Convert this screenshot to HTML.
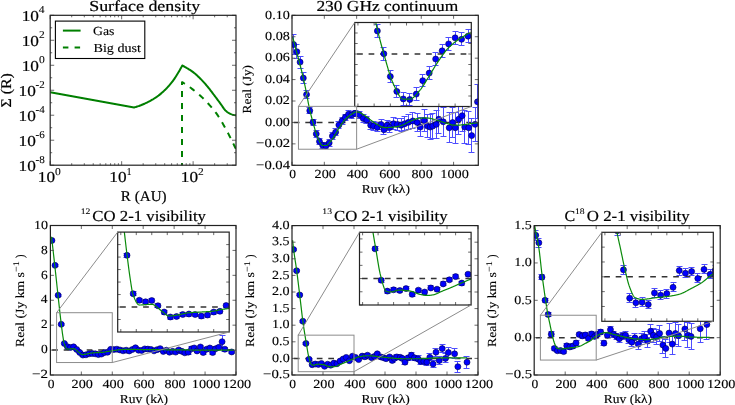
<!DOCTYPE html>
<html><head><meta charset="utf-8"><style>
html,body{margin:0;padding:0;background:#fff;}
svg{display:block;will-change:transform;}
text{font-family:"Liberation Serif",serif;fill:#000;stroke:#000;text-rendering:geometricPrecision;}
</style></head><body>
<svg width="735" height="405" viewBox="0 0 735 405">
<rect width="735" height="405" fill="#fff"/>
<clipPath id="c1"><rect x="50.20" y="15.30" width="185.80" height="149.90"/></clipPath>
<polyline points="50.20,92.30 134.10,107.50 134.71,107.33 135.32,107.15 135.93,106.96 136.54,106.77 137.15,106.57 137.76,106.37 138.37,106.15 138.98,105.94 139.59,105.71 140.20,105.48 140.81,105.25 141.42,105.00 142.03,104.76 142.64,104.51 143.25,104.25 143.86,103.99 144.47,103.72 145.08,103.45 145.69,103.16 146.30,102.88 146.91,102.59 147.52,102.29 148.13,101.98 148.74,101.67 149.35,101.35 149.96,101.02 150.57,100.68 151.18,100.34 151.79,99.99 152.40,99.63 153.01,99.27 153.62,98.89 154.23,98.51 154.84,98.12 155.45,97.72 156.06,97.31 156.67,96.90 157.28,96.47 157.89,96.03 158.51,95.58 159.12,95.11 159.73,94.63 160.34,94.14 160.95,93.63 161.56,93.11 162.17,92.58 162.78,92.03 163.39,91.47 164.00,90.89 164.61,90.30 165.22,89.70 165.83,89.09 166.44,88.46 167.05,87.82 167.66,87.16 168.27,86.49 168.88,85.81 169.49,85.12 170.10,84.41 170.71,83.69 171.32,82.95 171.93,82.18 172.54,81.38 173.15,80.55 173.76,79.70 174.37,78.82 174.98,77.92 175.59,76.99 176.20,76.04 176.81,75.07 177.42,74.08 178.03,73.06 178.64,72.03 179.25,70.98 179.86,69.92 180.47,68.83 181.08,67.74 181.69,66.63 182.30,65.50 183.00,65.87 183.69,66.25 184.39,66.64 185.08,67.04 185.78,67.44 186.48,67.85 187.17,68.26 187.87,68.68 188.57,69.10 189.26,69.53 189.96,69.96 190.65,70.41 191.35,70.87 192.05,71.35 192.74,71.86 193.44,72.39 194.14,72.94 194.83,73.51 195.53,74.11 196.22,74.73 196.92,75.36 197.62,76.00 198.31,76.66 199.01,77.33 199.71,78.01 200.40,78.70 201.10,79.40 201.79,80.12 202.49,80.86 203.19,81.62 203.88,82.39 204.58,83.17 205.27,83.97 205.97,84.77 206.67,85.59 207.36,86.42 208.06,87.25 208.76,88.11 209.45,88.99 210.15,89.88 210.84,90.78 211.54,91.70 212.24,92.62 212.93,93.55 213.63,94.48 214.33,95.40 215.02,96.33 215.72,97.25 216.41,98.19 217.11,99.12 217.81,100.06 218.50,101.01 219.20,101.95 219.89,102.90 220.59,103.84 221.29,104.80 221.98,105.81 222.68,106.86 223.38,107.89 224.07,108.86 224.77,109.74 225.46,110.46 226.16,111.09 226.86,111.67 227.55,112.20 228.25,112.68 228.95,113.11 229.64,113.48 230.34,113.80 231.03,114.11 231.73,114.40 232.43,114.66 233.12,114.87 233.82,115.03 234.52,115.12 235.21,115.19 235.91,115.25 236.60,115.29 237.30,115.30" fill="none" stroke="#007f00" stroke-width="2" clip-path="url(#c1)" stroke-linejoin="round" />
<polyline points="182.00,167.00 182.00,82.20 182.30,82.20 182.99,82.62 183.68,83.06 184.38,83.50 185.07,83.94 185.76,84.40 186.45,84.86 187.15,85.33 187.84,85.81 188.53,86.29 189.22,86.79 189.92,87.29 190.61,87.80 191.30,88.32 191.99,88.84 192.69,89.37 193.38,89.91 194.07,90.45 194.76,91.00 195.46,91.56 196.15,92.13 196.84,92.70 197.53,93.28 198.23,93.87 198.92,94.47 199.61,95.08 200.30,95.69 200.99,96.32 201.69,96.96 202.38,97.61 203.07,98.28 203.76,98.96 204.46,99.65 205.15,100.36 205.84,101.07 206.53,101.80 207.23,102.54 207.92,103.29 208.61,104.04 209.30,104.80 210.00,105.57 210.69,106.36 211.38,107.15 212.07,107.96 212.77,108.78 213.46,109.63 214.15,110.49 214.84,111.37 215.54,112.28 216.23,113.21 216.92,114.17 217.61,115.16 218.31,116.19 219.00,117.26 219.69,118.35 220.38,119.48 221.07,120.63 221.77,121.81 222.46,123.01 223.15,124.22 223.84,125.45 224.54,126.70 225.23,127.95 225.92,129.21 226.61,130.48 227.31,131.75 228.00,133.06 228.69,134.40 229.38,135.77 230.08,137.16 230.77,138.56 231.46,139.97 232.15,141.38 232.85,142.79 233.54,144.18 234.23,145.56 234.92,146.93 235.62,148.29 236.31,149.64 237.00,151.00" fill="none" stroke="#007f00" stroke-width="2" stroke-dasharray="6 6" clip-path="url(#c1)" stroke-linejoin="round" stroke-dashoffset="1.9"/>
<path d="M50.20 165.20v-4.00M50.20 15.30v4.00M121.66 165.20v-4.00M121.66 15.30v4.00M193.12 165.20v-4.00M193.12 15.30v4.00M71.71 165.20v-2.00M71.71 15.30v2.00M84.30 165.20v-2.00M84.30 15.30v2.00M93.22 165.20v-2.00M93.22 15.30v2.00M100.15 165.20v-2.00M100.15 15.30v2.00M105.81 165.20v-2.00M105.81 15.30v2.00M110.59 165.20v-2.00M110.59 15.30v2.00M114.74 165.20v-2.00M114.74 15.30v2.00M118.39 165.20v-2.00M118.39 15.30v2.00M143.17 165.20v-2.00M143.17 15.30v2.00M155.76 165.20v-2.00M155.76 15.30v2.00M164.69 165.20v-2.00M164.69 15.30v2.00M171.61 165.20v-2.00M171.61 15.30v2.00M177.27 165.20v-2.00M177.27 15.30v2.00M182.05 165.20v-2.00M182.05 15.30v2.00M186.20 165.20v-2.00M186.20 15.30v2.00M189.85 165.20v-2.00M189.85 15.30v2.00M214.64 165.20v-2.00M214.64 15.30v2.00M227.22 165.20v-2.00M227.22 15.30v2.00M50.20 165.20h4.00M236.00 165.20h-4.00M50.20 140.22h4.00M236.00 140.22h-4.00M50.20 115.23h4.00M236.00 115.23h-4.00M50.20 90.25h4.00M236.00 90.25h-4.00M50.20 65.27h4.00M236.00 65.27h-4.00M50.20 40.28h4.00M236.00 40.28h-4.00M50.20 15.30h4.00M236.00 15.30h-4.00M50.20 152.71h2.00M236.00 152.71h-2.00M50.20 127.72h2.00M236.00 127.72h-2.00M50.20 102.74h2.00M236.00 102.74h-2.00M50.20 77.76h2.00M236.00 77.76h-2.00M50.20 52.78h2.00M236.00 52.78h-2.00M50.20 27.79h2.00M236.00 27.79h-2.00" stroke="#444" stroke-width="0.8" fill="none"/>
<rect x="50.20" y="15.30" width="185.80" height="149.90" fill="none" stroke="#222" stroke-width="1.2"/>
<rect x="55.4" y="21.1" width="89.4" height="37.4" fill="#fff" stroke="#000" stroke-width="1.1"/>
<line x1="62.9" y1="30.6" x2="80.6" y2="30.6" stroke="#007f00" stroke-width="2"/>
<line x1="62.9" y1="47.4" x2="80.6" y2="47.4" stroke="#007f00" stroke-width="2" stroke-dasharray="5.5 6.2"/>
<text x="92.95" y="34.50" font-size="12.32" textLength="21.46" lengthAdjust="spacingAndGlyphs" stroke-width="0.12">Gas</text>
<text x="93.51" y="51.50" font-size="12.32" textLength="47.50" lengthAdjust="spacingAndGlyphs" stroke-width="0.12">Big dust</text>
<text x="18.56" y="170.50" font-size="15.12" textLength="17.23" lengthAdjust="spacingAndGlyphs" stroke-width="0.20">10</text>
<text x="35.59" y="162.60" font-size="10.58" textLength="9.24" lengthAdjust="spacingAndGlyphs" stroke-width="0.08">-8</text>
<text x="18.56" y="145.52" font-size="15.12" textLength="17.23" lengthAdjust="spacingAndGlyphs" stroke-width="0.20">10</text>
<text x="35.59" y="137.62" font-size="10.58" textLength="9.19" lengthAdjust="spacingAndGlyphs" stroke-width="0.08">-6</text>
<text x="18.56" y="120.53" font-size="15.12" textLength="17.23" lengthAdjust="spacingAndGlyphs" stroke-width="0.20">10</text>
<text x="35.59" y="112.63" font-size="10.58" textLength="9.15" lengthAdjust="spacingAndGlyphs" stroke-width="0.08">-4</text>
<text x="18.56" y="95.55" font-size="15.12" textLength="17.23" lengthAdjust="spacingAndGlyphs" stroke-width="0.20">10</text>
<text x="35.60" y="87.65" font-size="10.58" textLength="9.13" lengthAdjust="spacingAndGlyphs" stroke-width="0.08">-2</text>
<text x="21.76" y="70.57" font-size="15.12" textLength="17.23" lengthAdjust="spacingAndGlyphs" stroke-width="0.20">10</text>
<text x="38.96" y="62.67" font-size="10.58" textLength="5.80" lengthAdjust="spacingAndGlyphs" stroke-width="0.08">0</text>
<text x="21.76" y="45.58" font-size="15.12" textLength="17.23" lengthAdjust="spacingAndGlyphs" stroke-width="0.20">10</text>
<text x="38.93" y="37.68" font-size="10.58" textLength="5.71" lengthAdjust="spacingAndGlyphs" stroke-width="0.08">2</text>
<text x="21.76" y="20.60" font-size="15.12" textLength="17.23" lengthAdjust="spacingAndGlyphs" stroke-width="0.20">10</text>
<text x="38.85" y="12.70" font-size="10.58" textLength="5.81" lengthAdjust="spacingAndGlyphs" stroke-width="0.08">4</text>
<text x="37.85" y="182.40" font-size="15.12" textLength="17.23" lengthAdjust="spacingAndGlyphs" stroke-width="0.20">10</text>
<text x="55.06" y="174.50" font-size="10.58" textLength="5.80" lengthAdjust="spacingAndGlyphs" stroke-width="0.08">0</text>
<text x="109.31" y="182.40" font-size="15.12" textLength="17.23" lengthAdjust="spacingAndGlyphs" stroke-width="0.20">10</text>
<text x="126.60" y="174.50" font-size="10.58" textLength="5.14" lengthAdjust="spacingAndGlyphs" stroke-width="0.08">1</text>
<text x="180.78" y="182.40" font-size="15.12" textLength="17.23" lengthAdjust="spacingAndGlyphs" stroke-width="0.20">10</text>
<text x="197.95" y="174.50" font-size="10.58" textLength="5.71" lengthAdjust="spacingAndGlyphs" stroke-width="0.08">2</text>
<text x="120.86" y="200.90" font-size="14.78" textLength="45.71" lengthAdjust="spacingAndGlyphs" stroke-width="0.20">R (AU)</text>
<g transform="translate(10.80 90.65) rotate(-90)"><text x="-16.98" y="0" font-size="14.78" textLength="34.48" lengthAdjust="spacingAndGlyphs" stroke-width="0.20">Σ (R)</text></g>
<text x="89.20" y="10.90" font-size="15.23" textLength="110.98" lengthAdjust="spacingAndGlyphs" stroke-width="0.20">Surface density</text>
<clipPath id="c2"><rect x="292.00" y="15.30" width="186.30" height="150.00"/></clipPath>
<line x1="292.00" y1="122.44" x2="478.30" y2="122.44" stroke="#333" stroke-width="1.5" stroke-dasharray="5.7 5.8" stroke-dashoffset="9.70" clip-path="url(#c2)"/>
<path d="M293.50 34.50V54.50M290.50 34.50h6.00M290.50 54.50h6.00M296.50 44.50V58.50M293.50 44.50h6.00M293.50 58.50h6.00M300.50 56.50V68.50M297.50 56.50h6.00M297.50 68.50h6.00M303.50 72.50V83.50M300.50 72.50h6.00M300.50 83.50h6.00M306.50 90.50V98.50M303.50 90.50h6.00M303.50 98.50h6.00M309.50 107.50V113.50M306.50 107.50h6.00M306.50 113.50h6.00M313.50 119.50V125.50M310.50 119.50h6.00M310.50 125.50h6.00M316.50 130.50V137.50M313.50 130.50h6.00M313.50 137.50h6.00M319.50 138.50V144.50M316.50 138.50h6.00M316.50 144.50h6.00M322.50 142.50V148.50M319.50 142.50h6.00M319.50 148.50h6.00M325.50 142.50V148.50M322.50 142.50h6.00M322.50 148.50h6.00M329.50 139.50V146.50M326.50 139.50h6.00M326.50 146.50h6.00M332.50 132.50V139.50M329.50 132.50h6.00M329.50 139.50h6.00M335.50 128.50V135.50M332.50 128.50h6.00M332.50 135.50h6.00M338.50 121.50V128.50M335.50 121.50h6.00M335.50 128.50h6.00M342.50 117.50V124.50M339.50 117.50h6.00M339.50 124.50h6.00M345.50 114.50V120.50M342.50 114.50h6.00M342.50 120.50h6.00M348.50 110.50V117.50M345.50 110.50h6.00M345.50 117.50h6.00M351.50 111.50V118.50M348.50 111.50h6.00M348.50 118.50h6.00M355.50 110.50V116.50M352.50 110.50h6.00M352.50 116.50h6.00M359.50 111.50V118.50M356.50 111.50h6.00M356.50 118.50h6.00M363.50 114.50V122.50M360.50 114.50h6.00M360.50 122.50h6.00M366.50 116.50V123.50M363.50 116.50h6.00M363.50 123.50h6.00M370.50 121.50V129.50M367.50 121.50h6.00M367.50 129.50h6.00M373.50 121.50V130.50M370.50 121.50h6.00M370.50 130.50h6.00M377.50 122.50V131.50M374.50 122.50h6.00M374.50 131.50h6.00M381.50 119.50V129.50M378.50 119.50h6.00M378.50 129.50h6.00M383.50 124.50V134.50M380.50 124.50h6.00M380.50 134.50h6.00M387.50 120.50V130.50M384.50 120.50h6.00M384.50 130.50h6.00M389.50 121.50V132.50M386.50 121.50h6.00M386.50 132.50h6.00M393.50 117.50V129.50M390.50 117.50h6.00M390.50 129.50h6.00M397.50 118.50V130.50M394.50 118.50h6.00M394.50 130.50h6.00M401.50 118.50V131.50M398.50 118.50h6.00M398.50 131.50h6.00M404.50 116.50V130.50M401.50 116.50h6.00M401.50 130.50h6.00M408.50 114.50V129.50M405.50 114.50h6.00M405.50 129.50h6.00M412.50 112.50V128.50M409.50 112.50h6.00M409.50 128.50h6.00M417.50 113.50V131.50M414.50 113.50h6.00M414.50 131.50h6.00M420.50 117.50V136.50M417.50 117.50h6.00M417.50 136.50h6.00M424.50 109.50V131.50M421.50 109.50h6.00M421.50 131.50h6.00M427.50 114.50V137.50M424.50 114.50h6.00M424.50 137.50h6.00M430.50 114.50V139.50M427.50 114.50h6.00M427.50 139.50h6.00M432.50 113.50V138.50M429.50 113.50h6.00M429.50 138.50h6.00M436.50 110.50V138.50M433.50 110.50h6.00M433.50 138.50h6.00M438.50 105.50V133.50M435.50 105.50h6.00M435.50 133.50h6.00M443.50 107.50V136.50M440.50 107.50h6.00M440.50 136.50h6.00M449.50 112.50V142.50M446.50 112.50h6.00M446.50 142.50h6.00M452.50 107.50V137.50M449.50 107.50h6.00M449.50 137.50h6.00M455.50 112.50V143.50M452.50 112.50h6.00M452.50 143.50h6.00M458.50 103.50V134.50M455.50 103.50h6.00M455.50 134.50h6.00M462.50 99.50V131.50M459.50 99.50h6.00M459.50 131.50h6.00M464.50 110.50V143.50M461.50 110.50h6.00M461.50 143.50h6.00M468.50 111.50V144.50M465.50 111.50h6.00M465.50 144.50h6.00M471.50 118.50V152.50M468.50 118.50h6.00M468.50 152.50h6.00M475.50 107.50V141.50M472.50 107.50h6.00M472.50 141.50h6.00M477.50 84.50V118.50M474.50 84.50h6.00M474.50 118.50h6.00" stroke="#4d4dff" stroke-width="1" fill="none" clip-path="url(#c2)"/>
<g fill="#0000ff" stroke="#00004a" stroke-width="0.6" clip-path="url(#c2)"><circle cx="293.62" cy="44.55" r="3"/><circle cx="296.85" cy="51.73" r="3"/><circle cx="300.08" cy="62.12" r="3"/><circle cx="303.31" cy="78.09" r="3"/><circle cx="306.54" cy="94.59" r="3"/><circle cx="309.77" cy="110.66" r="3"/><circle cx="313.01" cy="122.34" r="3"/><circle cx="316.24" cy="133.91" r="3"/><circle cx="319.47" cy="141.51" r="3"/><circle cx="322.70" cy="145.37" r="3"/><circle cx="325.93" cy="145.69" r="3"/><circle cx="329.16" cy="142.91" r="3"/><circle cx="332.39" cy="136.05" r="3"/><circle cx="335.63" cy="132.19" r="3"/><circle cx="338.86" cy="125.01" r="3"/><circle cx="342.09" cy="120.84" r="3"/><circle cx="345.32" cy="117.30" r="3"/><circle cx="348.55" cy="114.19" r="3"/><circle cx="351.78" cy="114.94" r="3"/><circle cx="355.02" cy="113.34" r="3"/><circle cx="359.38" cy="114.84" r="3"/><circle cx="363.26" cy="118.48" r="3"/><circle cx="366.81" cy="119.98" r="3"/><circle cx="370.69" cy="125.23" r="3"/><circle cx="373.60" cy="125.98" r="3"/><circle cx="377.31" cy="127.37" r="3"/><circle cx="381.03" cy="124.48" r="3"/><circle cx="383.94" cy="129.73" r="3"/><circle cx="387.01" cy="125.23" r="3"/><circle cx="389.92" cy="127.37" r="3"/><circle cx="393.63" cy="123.73" r="3"/><circle cx="397.35" cy="124.48" r="3"/><circle cx="401.07" cy="125.23" r="3"/><circle cx="404.78" cy="123.73" r="3"/><circle cx="408.50" cy="122.34" r="3"/><circle cx="412.86" cy="120.94" r="3"/><circle cx="417.22" cy="122.55" r="3"/><circle cx="420.29" cy="127.05" r="3"/><circle cx="424.17" cy="120.62" r="3"/><circle cx="427.56" cy="126.09" r="3"/><circle cx="430.15" cy="127.05" r="3"/><circle cx="432.73" cy="126.09" r="3"/><circle cx="436.29" cy="124.37" r="3"/><circle cx="438.87" cy="119.23" r="3"/><circle cx="443.24" cy="121.80" r="3"/><circle cx="449.22" cy="127.80" r="3"/><circle cx="452.61" cy="122.55" r="3"/><circle cx="455.36" cy="127.80" r="3"/><circle cx="458.75" cy="119.23" r="3"/><circle cx="462.14" cy="115.69" r="3"/><circle cx="464.73" cy="127.05" r="3"/><circle cx="468.77" cy="127.80" r="3"/><circle cx="471.68" cy="135.62" r="3"/><circle cx="475.07" cy="124.37" r="3"/><circle cx="477.49" cy="101.87" r="3"/></g>
<polyline points="292.65,37.05 293.11,38.77 293.58,40.50 294.04,42.24 294.51,43.97 294.97,45.72 295.44,47.47 295.90,49.22 296.37,50.98 296.83,52.75 297.30,54.51 297.76,56.26 298.23,58.00 298.70,59.73 299.16,61.47 299.63,63.22 300.09,64.99 300.56,66.77 301.02,68.59 301.49,70.43 301.95,72.32 302.42,74.25 302.88,76.24 303.35,78.28 303.81,80.38 304.28,82.53 304.74,84.72 305.21,86.95 305.67,89.21 306.14,91.51 306.61,93.83 307.07,96.28 307.54,98.85 308.00,101.43 308.47,103.92 308.93,106.21 309.40,108.32 309.86,110.34 310.33,112.29 310.79,114.17 311.26,115.99 311.72,117.77 312.19,119.49 312.65,121.19 313.12,122.85 313.58,124.53 314.05,126.22 314.52,127.90 314.98,129.55 315.45,131.16 315.91,132.70 316.38,134.16 316.84,135.51 317.31,136.73 317.77,137.81 318.24,138.79 318.70,139.80 319.17,140.79 319.63,141.76 320.10,142.67 320.56,143.49 321.03,144.21 321.49,144.79 321.96,145.21 322.43,145.44 322.89,145.48 323.36,145.48 323.82,145.48 324.29,145.48 324.75,145.48 325.22,145.48 325.68,145.48 326.15,145.46 326.61,145.34 327.08,145.11 327.54,144.77 328.01,144.36 328.47,143.89 328.94,143.37 329.40,142.82 329.87,142.26 330.34,141.71 330.80,141.17 331.27,140.61 331.73,139.99 332.20,139.32 332.66,138.61 333.13,137.87 333.59,137.10 334.06,136.32 334.52,135.53 334.99,134.75 335.45,133.97 335.92,133.21 336.38,132.42 336.85,131.62 337.31,130.80 337.78,130.00 338.25,129.21 338.71,128.46 339.18,127.74 339.64,127.01 340.11,126.29 340.57,125.57 341.04,124.86 341.50,124.16 341.97,123.48 342.43,122.81 342.90,122.16 343.36,121.53 343.83,120.93 344.29,120.36 344.76,119.83 345.22,119.33 345.69,118.86 346.16,118.41 346.62,117.97 347.09,117.55 347.55,117.15 348.02,116.75 348.48,116.38 348.95,116.01 349.41,115.66 349.88,115.33 350.34,115.00 350.81,114.69 351.27,114.40 351.74,114.11 352.20,113.83 352.67,113.53 353.13,113.22 353.60,112.92 354.07,112.63 354.53,112.37 355.00,112.13 355.46,111.95 355.93,111.81 356.39,111.74 356.86,111.73 357.32,111.78 357.79,111.86 358.25,111.99 358.72,112.14 359.18,112.33 359.65,112.53 360.11,112.76 360.58,113.01 361.05,113.26 361.51,113.52 361.98,113.79 362.44,114.05 362.91,114.31 363.37,114.56 363.84,114.84 364.30,115.15 364.77,115.47 365.23,115.82 365.70,116.18 366.16,116.55 366.63,116.93 367.09,117.31 367.56,117.69 368.02,118.06 368.49,118.43 368.96,118.79 369.42,119.13 369.89,119.46 370.35,119.79 370.82,120.13 371.28,120.46 371.75,120.80 372.21,121.13 372.68,121.46 373.14,121.79 373.61,122.11 374.07,122.43 374.54,122.75 375.00,123.05 375.47,123.35 375.93,123.63 376.40,123.91 376.87,124.18 377.33,124.43 377.80,124.67 378.26,124.91 378.73,125.17 379.19,125.43 379.66,125.69 380.12,125.94 380.59,126.19 381.05,126.44 381.52,126.67 381.98,126.88 382.45,127.07 382.91,127.23 383.38,127.37 383.84,127.48 384.31,127.55 384.78,127.58 385.24,127.58 385.71,127.58 386.17,127.57 386.64,127.56 387.10,127.55 387.57,127.53 388.03,127.51 388.50,127.49 388.96,127.47 389.43,127.44 389.89,127.41 390.36,127.39 390.82,127.36 391.29,127.33 391.75,127.29 392.22,127.26 392.69,127.22 393.15,127.18 393.62,127.13 394.08,127.08 394.55,127.01 395.01,126.95 395.48,126.87 395.94,126.80 396.41,126.71 396.87,126.63 397.34,126.53 397.80,126.44 398.27,126.34 398.73,126.23 399.20,126.13 399.66,126.02 400.13,125.90 400.60,125.78 401.06,125.64 401.53,125.48 401.99,125.30 402.46,125.11 402.92,124.90 403.39,124.68 403.85,124.45 404.32,124.21 404.78,123.96 405.25,123.71 405.71,123.46 406.18,123.21 406.64,122.96 407.11,122.71 407.57,122.47 408.04,122.23 408.51,122.00 408.97,121.79 409.44,121.58 409.90,121.39 410.37,121.21 410.83,121.02 411.30,120.83 411.76,120.63 412.23,120.43 412.69,120.23 413.16,120.03 413.62,119.84 414.09,119.65 414.55,119.46 415.02,119.28 415.48,119.11 415.95,118.95 416.42,118.79 416.88,118.66 417.35,118.53 417.81,118.42 418.28,118.33 418.74,118.25 419.21,118.19 419.67,118.16 420.14,118.13 420.60,118.10 421.07,118.08 421.53,118.06 422.00,118.04 422.46,118.02 422.93,118.00 423.39,117.99 423.86,117.97 424.33,117.96 424.79,117.95 425.26,117.95 425.72,117.94 426.19,117.94 426.65,117.95 427.12,117.97 427.58,118.01 428.05,118.06 428.51,118.11 428.98,118.18 429.44,118.26 429.91,118.34 430.37,118.44 430.84,118.54 431.30,118.65 431.77,118.76 432.24,118.88 432.70,119.00 433.17,119.12 433.63,119.25 434.10,119.38 434.56,119.51 435.03,119.65 435.49,119.78 435.96,119.91 436.42,120.03 436.89,120.16 437.35,120.28 437.82,120.41 438.28,120.54 438.75,120.68 439.22,120.83 439.68,120.98 440.15,121.14 440.61,121.30 441.08,121.47 441.54,121.64 442.01,121.81 442.47,121.98 442.94,122.15 443.40,122.32 443.87,122.49 444.33,122.66 444.80,122.81 445.26,122.97 445.73,123.12 446.19,123.26 446.66,123.39 447.13,123.52 447.59,123.64 448.06,123.77 448.52,123.90 448.99,124.03 449.45,124.16 449.92,124.30 450.38,124.43 450.85,124.55 451.31,124.67 451.78,124.78 452.24,124.89 452.71,124.98 453.17,125.06 453.64,125.12 454.10,125.18 454.57,125.21 455.04,125.23 455.50,125.23 455.97,125.22 456.43,125.21 456.90,125.20 457.36,125.19 457.83,125.17 458.29,125.15 458.76,125.12 459.22,125.10 459.69,125.07 460.15,125.04 460.62,125.00 461.08,124.97 461.55,124.94 462.01,124.90 462.48,124.86 462.95,124.83 463.41,124.79 463.88,124.74 464.34,124.69 464.81,124.63 465.27,124.56 465.74,124.49 466.20,124.41 466.67,124.32 467.13,124.24 467.60,124.15 468.06,124.06 468.53,123.98 468.99,123.89 469.46,123.81 469.92,123.73 470.39,123.65 470.86,123.58 471.32,123.52 471.79,123.46 472.25,123.40 472.72,123.34 473.18,123.29 473.65,123.23 474.11,123.18 474.58,123.13 475.04,123.08 475.51,123.03 475.97,122.98 476.44,122.93 476.90,122.88 477.37,122.84 477.83,122.79 478.30,122.75" fill="none" stroke="#0a8a0a" stroke-width="1.2" clip-path="url(#c2)" stroke-linejoin="round" />
<path d="M292.00 165.30v-3.50M292.00 15.30v3.50M324.32 165.30v-3.50M324.32 15.30v3.50M356.63 165.30v-3.50M356.63 15.30v3.50M388.95 165.30v-3.50M388.95 15.30v3.50M421.26 165.30v-3.50M421.26 15.30v3.50M453.58 165.30v-3.50M453.58 15.30v3.50M292.00 165.30h3.50M478.30 165.30h-3.50M292.00 143.87h3.50M478.30 143.87h-3.50M292.00 122.44h3.50M478.30 122.44h-3.50M292.00 101.01h3.50M478.30 101.01h-3.50M292.00 79.59h3.50M478.30 79.59h-3.50M292.00 58.16h3.50M478.30 58.16h-3.50M292.00 36.73h3.50M478.30 36.73h-3.50M292.00 15.30h3.50M478.30 15.30h-3.50" stroke="#444" stroke-width="0.8" fill="none"/>
<rect x="292.00" y="15.30" width="186.30" height="150.00" fill="none" stroke="#222" stroke-width="1.2"/>
<rect x="354.70" y="22.50" width="116.60" height="84.00" fill="#fff"/>
<clipPath id="c3"><rect x="354.70" y="22.50" width="116.60" height="84.00"/></clipPath>
<line x1="354.70" y1="54.00" x2="471.30" y2="54.00" stroke="#333" stroke-width="1.5" stroke-dasharray="5.7 5.8" stroke-dashoffset="9.10" clip-path="url(#c3)"/>
<path d="M351.50 -98.50V-70.50M348.50 -98.50h6.00M348.50 -70.50h6.00M357.50 -75.50V-52.50M354.50 -75.50h6.00M354.50 -52.50h6.00M364.50 -43.50V-22.50M361.50 -43.50h6.00M361.50 -22.50h6.00M370.50 -8.50V7.50M367.50 -8.50h6.00M367.50 7.50h6.00M377.50 24.50V37.50M374.50 24.50h6.00M374.50 37.50h6.00M383.50 47.50V60.50M380.50 47.50h6.00M380.50 60.50h6.00M390.50 70.50V82.50M387.50 70.50h6.00M387.50 82.50h6.00M396.50 85.50V97.50M393.50 85.50h6.00M393.50 97.50h6.00M403.50 92.50V105.50M400.50 92.50h6.00M400.50 105.50h6.00M409.50 93.50V105.50M406.50 93.50h6.00M406.50 105.50h6.00M416.50 87.50V100.50M413.50 87.50h6.00M413.50 100.50h6.00M422.50 74.50V86.50M419.50 74.50h6.00M419.50 86.50h6.00M429.50 66.50V79.50M426.50 66.50h6.00M426.50 79.50h6.00M435.50 52.50V65.50M432.50 52.50h6.00M432.50 65.50h6.00M442.50 44.50V57.50M439.50 44.50h6.00M439.50 57.50h6.00M448.50 37.50V50.50M445.50 37.50h6.00M445.50 50.50h6.00M455.50 31.50V44.50M452.50 31.50h6.00M452.50 44.50h6.00M461.50 32.50V45.50M458.50 32.50h6.00M458.50 45.50h6.00M468.50 29.50V42.50M465.50 29.50h6.00M465.50 42.50h6.00" stroke="#4d4dff" stroke-width="1" fill="none" clip-path="url(#c3)"/>
<g fill="#0000ff" stroke="#00004a" stroke-width="0.6" clip-path="url(#c3)"><circle cx="351.46" cy="-84.60" r="3"/><circle cx="357.94" cy="-64.23" r="3"/><circle cx="364.42" cy="-32.94" r="3"/><circle cx="370.89" cy="-0.60" r="3"/><circle cx="377.37" cy="30.90" r="3"/><circle cx="383.85" cy="53.79" r="3"/><circle cx="390.33" cy="76.47" r="3"/><circle cx="396.81" cy="91.38" r="3"/><circle cx="403.28" cy="98.94" r="3"/><circle cx="409.76" cy="99.57" r="3"/><circle cx="416.24" cy="94.11" r="3"/><circle cx="422.72" cy="80.67" r="3"/><circle cx="429.19" cy="73.11" r="3"/><circle cx="435.67" cy="59.04" r="3"/><circle cx="442.15" cy="50.85" r="3"/><circle cx="448.63" cy="43.92" r="3"/><circle cx="455.11" cy="37.83" r="3"/><circle cx="461.58" cy="39.30" r="3"/><circle cx="468.06" cy="36.15" r="3"/></g>
<polyline points="343.04,-113.37 343.38,-112.15 343.72,-110.92 344.05,-109.70 344.39,-108.47 344.73,-107.25 345.07,-106.02 345.40,-104.79 345.74,-103.56 346.08,-102.33 346.42,-101.09 346.75,-99.86 347.09,-98.62 347.43,-97.39 347.77,-96.15 348.11,-94.91 348.44,-93.66 348.78,-92.42 349.12,-91.18 349.46,-89.93 349.79,-88.68 350.13,-87.43 350.47,-86.18 350.81,-84.93 351.14,-83.68 351.48,-82.42 351.82,-81.17 352.16,-79.92 352.50,-78.67 352.83,-77.43 353.17,-76.20 353.51,-74.96 353.85,-73.73 354.18,-72.49 354.52,-71.26 354.86,-70.03 355.20,-68.80 355.53,-67.56 355.87,-66.33 356.21,-65.09 356.55,-63.85 356.89,-62.61 357.22,-61.37 357.56,-60.11 357.90,-58.86 358.24,-57.60 358.57,-56.33 358.91,-55.06 359.25,-53.78 359.59,-52.49 359.92,-51.19 360.26,-49.89 360.60,-48.57 360.94,-47.25 361.28,-45.91 361.61,-44.56 361.95,-43.21 362.29,-41.84 362.63,-40.45 362.96,-39.06 363.30,-37.65 363.64,-36.22 363.98,-34.78 364.31,-33.32 364.65,-31.85 364.99,-30.37 365.33,-28.88 365.67,-27.37 366.00,-25.84 366.34,-24.31 366.68,-22.77 367.02,-21.21 367.35,-19.65 367.69,-18.07 368.03,-16.48 368.37,-14.89 368.70,-13.28 369.04,-11.67 369.38,-10.05 369.72,-8.42 370.06,-6.79 370.39,-5.15 370.73,-3.50 371.07,-1.84 371.41,-0.13 371.74,1.62 372.08,3.41 372.42,5.22 372.76,7.05 373.09,8.89 373.43,10.73 373.77,12.55 374.11,14.35 374.45,16.12 374.78,17.85 375.12,19.53 375.46,21.15 375.80,22.69 376.13,24.20 376.47,25.68 376.81,27.14 377.15,28.59 377.48,30.01 377.82,31.41 378.16,32.79 378.50,34.16 378.83,35.51 379.17,36.84 379.51,38.16 379.85,39.46 380.19,40.75 380.52,42.02 380.86,43.28 381.20,44.53 381.54,45.77 381.87,47.00 382.21,48.21 382.55,49.42 382.89,50.62 383.22,51.81 383.56,53.00 383.90,54.18 384.24,55.36 384.58,56.55 384.91,57.74 385.25,58.94 385.59,60.14 385.93,61.34 386.26,62.53 386.60,63.73 386.94,64.92 387.28,66.10 387.61,67.27 387.95,68.43 388.29,69.58 388.63,70.71 388.97,71.83 389.30,72.92 389.64,74.00 389.98,75.06 390.32,76.09 390.65,77.10 390.99,78.08 391.33,79.03 391.67,79.95 392.00,80.83 392.34,81.68 392.68,82.50 393.02,83.27 393.36,84.01 393.69,84.71 394.03,85.41 394.37,86.11 394.71,86.82 395.04,87.53 395.38,88.25 395.72,88.96 396.06,89.66 396.39,90.36 396.73,91.05 397.07,91.73 397.41,92.39 397.75,93.04 398.08,93.67 398.42,94.27 398.76,94.85 399.10,95.41 399.43,95.94 399.77,96.43 400.11,96.89 400.45,97.32 400.78,97.71 401.12,98.05 401.46,98.36 401.80,98.62 402.14,98.83 402.47,98.99 402.81,99.09 403.15,99.15 403.49,99.15 403.82,99.15 404.16,99.15 404.50,99.15 404.84,99.15 405.17,99.15 405.51,99.15 405.85,99.15 406.19,99.15 406.53,99.15 406.86,99.15 407.20,99.15 407.54,99.15 407.88,99.15 408.21,99.15 408.55,99.15 408.89,99.15 409.23,99.15 409.56,99.15 409.90,99.15 410.24,99.12 410.58,99.05 410.92,98.96 411.25,98.83 411.59,98.68 411.93,98.50 412.27,98.29 412.60,98.06 412.94,97.81 413.28,97.54 413.62,97.25 413.95,96.94 414.29,96.61 414.63,96.28 414.97,95.92 415.31,95.56 415.64,95.19 415.98,94.81 416.32,94.42 416.66,94.03 416.99,93.63 417.33,93.23 417.67,92.83 418.01,92.43 418.34,92.04 418.68,91.65 419.02,91.26 419.36,90.88 419.70,90.51 420.03,90.12 420.37,89.71 420.71,89.29 421.05,88.85 421.38,88.40 421.72,87.93 422.06,87.46 422.40,86.97 422.73,86.47 423.07,85.96 423.41,85.44 423.75,84.92 424.09,84.39 424.42,83.85 424.76,83.31 425.10,82.76 425.44,82.21 425.77,81.65 426.11,81.09 426.45,80.53 426.79,79.98 427.12,79.42 427.46,78.86 427.80,78.30 428.14,77.75 428.48,77.20 428.81,76.66 429.15,76.12 429.49,75.58 429.83,75.03 430.16,74.48 430.50,73.92 430.84,73.35 431.18,72.78 431.51,72.20 431.85,71.63 432.19,71.05 432.53,70.47 432.87,69.90 433.20,69.33 433.54,68.76 433.88,68.20 434.22,67.64 434.55,67.09 434.89,66.55 435.23,66.02 435.57,65.50 435.90,64.99 436.24,64.48 436.58,63.97 436.92,63.45 437.26,62.94 437.59,62.43 437.93,61.92 438.27,61.41 438.61,60.89 438.94,60.39 439.28,59.88 439.62,59.37 439.96,58.87 440.29,58.37 440.63,57.87 440.97,57.38 441.31,56.89 441.65,56.40 441.98,55.92 442.32,55.44 442.66,54.96 443.00,54.50 443.33,54.03 443.67,53.57 444.01,53.12 444.35,52.68 444.68,52.24 445.02,51.81 445.36,51.38 445.70,50.96 446.04,50.55 446.37,50.15 446.71,49.76 447.05,49.37 447.39,49.00 447.72,48.63 448.06,48.28 448.40,47.93 448.74,47.59 449.07,47.26 449.41,46.93 449.75,46.61 450.09,46.29 450.42,45.98 450.76,45.67 451.10,45.36 451.44,45.05 451.78,44.76 452.11,44.46 452.45,44.17 452.79,43.88 453.13,43.59 453.46,43.31 453.80,43.04 454.14,42.76 454.48,42.49 454.81,42.23 455.15,41.96 455.49,41.71 455.83,41.45 456.17,41.20 456.50,40.95 456.84,40.71 457.18,40.46 457.52,40.23 457.85,39.99 458.19,39.76 458.53,39.53 458.87,39.31 459.20,39.09 459.54,38.87 459.88,38.65 460.22,38.44 460.56,38.23 460.89,38.03 461.23,37.83 461.57,37.63 461.91,37.43 462.24,37.22 462.58,37.01 462.92,36.80 463.26,36.59 463.59,36.37 463.93,36.15 464.27,35.93 464.61,35.72 464.95,35.50 465.28,35.29 465.62,35.08 465.96,34.88 466.30,34.68 466.63,34.49 466.97,34.31 467.31,34.13 467.65,33.97 467.98,33.81 468.32,33.67 468.66,33.53 469.00,33.41 469.34,33.31 469.67,33.21 470.01,33.14 470.35,33.08 470.69,33.03 471.02,33.01 471.36,33.00 471.70,33.01 472.04,33.03 472.37,33.06 472.71,33.10 473.05,33.15 473.39,33.22 473.73,33.29 474.06,33.37 474.40,33.46 474.74,33.56 475.08,33.67 475.41,33.79 475.75,33.91 476.09,34.04 476.43,34.18 476.76,34.32 477.10,34.47 477.44,34.62 477.78,34.78" fill="none" stroke="#0a8a0a" stroke-width="1.2" clip-path="url(#c3)" stroke-linejoin="round" />
<path d="M357.94 106.50v-3.00M357.94 22.50v3.00M374.13 106.50v-3.00M374.13 22.50v3.00M390.33 106.50v-3.00M390.33 22.50v3.00M406.52 106.50v-3.00M406.52 22.50v3.00M422.72 106.50v-3.00M422.72 22.50v3.00M438.91 106.50v-3.00M438.91 22.50v3.00M455.11 106.50v-3.00M455.11 22.50v3.00M354.70 96.00h3.00M471.30 96.00h-3.00M354.70 85.50h3.00M471.30 85.50h-3.00M354.70 75.00h3.00M471.30 75.00h-3.00M354.70 64.50h3.00M471.30 64.50h-3.00M354.70 54.00h3.00M471.30 54.00h-3.00M354.70 43.50h3.00M471.30 43.50h-3.00M354.70 33.00h3.00M471.30 33.00h-3.00" stroke="#444" stroke-width="0.8" fill="none"/>
<rect x="354.70" y="22.50" width="116.60" height="84.00" fill="none" stroke="#222" stroke-width="1.2"/>
<rect x="298.46" y="106.37" width="58.17" height="42.86" fill="none" stroke="#8c8c8c" stroke-width="1"/>
<path d="M298.46 106.37L354.70 22.50M356.63 149.23L471.30 106.50" stroke="#8c8c8c" stroke-width="1" fill="none"/>
<text x="256.13" y="168.50" font-size="12.32" textLength="33.90" lengthAdjust="spacingAndGlyphs" stroke-width="0.12">−0.04</text>
<text x="256.13" y="147.07" font-size="12.32" textLength="33.95" lengthAdjust="spacingAndGlyphs" stroke-width="0.12">−0.02</text>
<text x="265.08" y="125.64" font-size="12.32" textLength="24.81" lengthAdjust="spacingAndGlyphs" stroke-width="0.12">0.00</text>
<text x="265.09" y="104.21" font-size="12.32" textLength="24.70" lengthAdjust="spacingAndGlyphs" stroke-width="0.12">0.02</text>
<text x="265.09" y="82.79" font-size="12.32" textLength="24.66" lengthAdjust="spacingAndGlyphs" stroke-width="0.12">0.04</text>
<text x="265.09" y="61.36" font-size="12.32" textLength="24.73" lengthAdjust="spacingAndGlyphs" stroke-width="0.12">0.06</text>
<text x="265.08" y="39.93" font-size="12.32" textLength="24.80" lengthAdjust="spacingAndGlyphs" stroke-width="0.12">0.08</text>
<text x="265.08" y="18.50" font-size="12.32" textLength="24.81" lengthAdjust="spacingAndGlyphs" stroke-width="0.12">0.10</text>
<text x="289.30" y="178.20" font-size="12.32" textLength="6.75" lengthAdjust="spacingAndGlyphs" stroke-width="0.12">0</text>
<text x="314.55" y="178.20" font-size="12.32" textLength="21.26" lengthAdjust="spacingAndGlyphs" stroke-width="0.12">200</text>
<text x="346.79" y="178.20" font-size="12.32" textLength="21.34" lengthAdjust="spacingAndGlyphs" stroke-width="0.12">400</text>
<text x="379.18" y="178.20" font-size="12.32" textLength="21.26" lengthAdjust="spacingAndGlyphs" stroke-width="0.12">600</text>
<text x="411.55" y="178.20" font-size="12.32" textLength="21.20" lengthAdjust="spacingAndGlyphs" stroke-width="0.12">800</text>
<text x="440.28" y="178.20" font-size="12.32" textLength="28.49" lengthAdjust="spacingAndGlyphs" stroke-width="0.12">1000</text>
<text x="361.73" y="193.30" font-size="12.32" textLength="48.17" lengthAdjust="spacingAndGlyphs" stroke-width="0.12">Ruv (kλ)</text>
<text x="316.44" y="10.90" font-size="15.23" textLength="141.86" lengthAdjust="spacingAndGlyphs" stroke-width="0.20">230 GHz continuum</text>
<g transform="translate(250.80 113.60) rotate(-90)"><text x="0.23" y="0" font-size="12.32" textLength="48.44" lengthAdjust="spacingAndGlyphs" stroke-width="0.12">Real (Jy)</text></g>
<clipPath id="c4"><rect x="50.40" y="225.50" width="185.60" height="149.50"/></clipPath>
<line x1="50.40" y1="350.08" x2="236.00" y2="350.08" stroke="#333" stroke-width="1.5" stroke-dasharray="5.7 5.8" stroke-dashoffset="9.70" clip-path="url(#c4)"/>
<path d="M51.50 239.50V241.50M48.50 239.50h6.00M48.50 241.50h6.00M55.50 264.50V266.50M52.50 264.50h6.00M52.50 266.50h6.00M58.50 294.50V296.50M55.50 294.50h6.00M55.50 296.50h6.00M61.50 323.50V325.50M58.50 323.50h6.00M58.50 325.50h6.00M64.50 342.50V344.50M61.50 342.50h6.00M61.50 344.50h6.00M67.50 345.50V347.50M64.50 345.50h6.00M64.50 347.50h6.00M70.50 346.50V348.50M67.50 346.50h6.00M67.50 348.50h6.00M73.50 345.50V347.50M70.50 345.50h6.00M70.50 347.50h6.00M76.50 348.50V350.50M73.50 348.50h6.00M73.50 350.50h6.00M79.50 351.50V353.50M76.50 351.50h6.00M76.50 353.50h6.00M82.50 354.50V356.50M79.50 354.50h6.00M79.50 356.50h6.00M85.50 353.50V355.50M82.50 353.50h6.00M82.50 355.50h6.00M89.50 352.50V354.50M86.50 352.50h6.00M86.50 354.50h6.00M92.50 352.50V354.50M89.50 352.50h6.00M89.50 354.50h6.00M95.50 352.50V354.50M92.50 352.50h6.00M92.50 354.50h6.00M98.50 353.50V355.50M95.50 353.50h6.00M95.50 355.50h6.00M101.50 353.50V355.50M98.50 353.50h6.00M98.50 355.50h6.00M104.50 351.50V353.50M101.50 351.50h6.00M101.50 353.50h6.00M107.50 351.50V353.50M104.50 351.50h6.00M104.50 353.50h6.00M110.50 348.50V350.50M107.50 348.50h6.00M107.50 350.50h6.00M113.50 348.50V350.50M110.50 348.50h6.00M110.50 350.50h6.00M116.50 348.50V350.50M113.50 348.50h6.00M113.50 350.50h6.00M120.50 348.50V350.50M117.50 348.50h6.00M117.50 350.50h6.00M123.50 349.50V351.50M120.50 349.50h6.00M120.50 351.50h6.00M126.50 349.50V351.50M123.50 349.50h6.00M123.50 351.50h6.00M129.50 349.50V351.50M126.50 349.50h6.00M126.50 351.50h6.00M132.50 348.50V350.50M129.50 348.50h6.00M129.50 350.50h6.00M135.50 346.50V348.50M132.50 346.50h6.00M132.50 348.50h6.00M138.50 349.50V351.50M135.50 349.50h6.00M135.50 351.50h6.00M141.50 349.50V351.50M138.50 349.50h6.00M138.50 351.50h6.00M144.50 347.50V349.50M141.50 347.50h6.00M141.50 349.50h6.00M147.50 348.50V350.50M144.50 348.50h6.00M144.50 350.50h6.00M150.50 348.50V350.50M147.50 348.50h6.00M147.50 350.50h6.00M154.50 349.50V351.50M151.50 349.50h6.00M151.50 351.50h6.00M157.50 348.50V350.50M154.50 348.50h6.00M154.50 350.50h6.00M160.50 347.50V349.50M157.50 347.50h6.00M157.50 349.50h6.00M163.50 350.50V352.50M160.50 350.50h6.00M160.50 352.50h6.00M166.50 349.50V351.50M163.50 349.50h6.00M163.50 351.50h6.00M169.50 351.50V353.50M166.50 351.50h6.00M166.50 353.50h6.00M172.50 350.50V352.50M169.50 350.50h6.00M169.50 352.50h6.00M175.50 350.50V353.50M172.50 350.50h6.00M172.50 353.50h6.00M178.50 348.50V351.50M175.50 348.50h6.00M175.50 351.50h6.00M181.50 349.50V353.50M178.50 349.50h6.00M178.50 353.50h6.00M184.50 350.50V354.50M181.50 350.50h6.00M181.50 354.50h6.00M188.50 350.50V354.50M185.50 350.50h6.00M185.50 354.50h6.00M191.50 346.50V350.50M188.50 346.50h6.00M188.50 350.50h6.00M194.50 346.50V349.50M191.50 346.50h6.00M191.50 349.50h6.00M197.50 349.50V352.50M194.50 349.50h6.00M194.50 352.50h6.00M200.50 345.50V348.50M197.50 345.50h6.00M197.50 348.50h6.00M203.50 350.50V354.50M200.50 350.50h6.00M200.50 354.50h6.00M206.50 347.50V351.50M203.50 347.50h6.00M203.50 351.50h6.00M209.50 346.50V349.50M206.50 346.50h6.00M206.50 349.50h6.00M212.50 350.50V354.50M209.50 350.50h6.00M209.50 354.50h6.00M215.50 346.50V350.50M212.50 346.50h6.00M212.50 350.50h6.00M218.50 345.50V349.50M215.50 345.50h6.00M215.50 349.50h6.00M222.50 335.50V347.50M219.50 335.50h6.00M219.50 347.50h6.00M224.50 347.50V351.50M221.50 347.50h6.00M221.50 351.50h6.00M231.50 350.50V353.50M228.50 350.50h6.00M228.50 353.50h6.00" stroke="#4d4dff" stroke-width="1" fill="none" clip-path="url(#c4)"/>
<g fill="#0000ff" stroke="#00004a" stroke-width="0.6" clip-path="url(#c4)"><circle cx="51.95" cy="240.45" r="3"/><circle cx="55.04" cy="265.37" r="3"/><circle cx="58.13" cy="295.27" r="3"/><circle cx="61.23" cy="324.29" r="3"/><circle cx="64.32" cy="343.48" r="3"/><circle cx="67.41" cy="346.72" r="3"/><circle cx="70.51" cy="347.47" r="3"/><circle cx="73.60" cy="346.84" r="3"/><circle cx="76.69" cy="349.46" r="3"/><circle cx="79.79" cy="352.57" r="3"/><circle cx="82.88" cy="355.07" r="3"/><circle cx="85.97" cy="354.82" r="3"/><circle cx="89.07" cy="353.82" r="3"/><circle cx="92.16" cy="353.57" r="3"/><circle cx="95.25" cy="353.82" r="3"/><circle cx="98.35" cy="354.57" r="3"/><circle cx="101.44" cy="354.07" r="3"/><circle cx="104.53" cy="352.57" r="3"/><circle cx="107.63" cy="352.20" r="3"/><circle cx="110.72" cy="349.34" r="3"/><circle cx="113.81" cy="349.58" r="3"/><circle cx="116.91" cy="349.18" r="3"/><circle cx="120.00" cy="349.96" r="3"/><circle cx="123.09" cy="350.81" r="3"/><circle cx="126.19" cy="350.21" r="3"/><circle cx="129.28" cy="350.94" r="3"/><circle cx="132.37" cy="349.50" r="3"/><circle cx="135.47" cy="347.75" r="3"/><circle cx="138.56" cy="350.26" r="3"/><circle cx="141.65" cy="350.44" r="3"/><circle cx="144.75" cy="348.91" r="3"/><circle cx="147.84" cy="349.10" r="3"/><circle cx="150.93" cy="349.44" r="3"/><circle cx="154.03" cy="350.86" r="3"/><circle cx="157.12" cy="349.63" r="3"/><circle cx="160.21" cy="348.63" r="3"/><circle cx="163.31" cy="351.43" r="3"/><circle cx="166.40" cy="350.21" r="3"/><circle cx="169.49" cy="352.19" r="3"/><circle cx="172.59" cy="351.35" r="3"/><circle cx="175.68" cy="352.11" r="3"/><circle cx="178.77" cy="349.91" r="3"/><circle cx="181.87" cy="351.32" r="3"/><circle cx="184.81" cy="352.82" r="3"/><circle cx="188.21" cy="352.20" r="3"/><circle cx="191.61" cy="348.84" r="3"/><circle cx="194.24" cy="347.97" r="3"/><circle cx="197.02" cy="350.96" r="3"/><circle cx="200.43" cy="346.97" r="3"/><circle cx="203.21" cy="352.57" r="3"/><circle cx="206.61" cy="349.21" r="3"/><circle cx="209.86" cy="347.97" r="3"/><circle cx="212.65" cy="352.57" r="3"/><circle cx="215.43" cy="348.84" r="3"/><circle cx="218.83" cy="347.34" r="3"/><circle cx="222.08" cy="341.74" r="3"/><circle cx="224.86" cy="349.21" r="3"/><circle cx="231.67" cy="351.95" r="3"/></g>
<polyline points="51.48,236.71 51.94,240.39 52.40,244.25 52.85,248.20 53.31,252.23 53.77,256.32 54.22,260.44 54.68,264.59 55.14,268.73 55.59,272.92 56.05,277.16 56.51,281.43 56.96,285.70 57.42,289.96 57.88,294.17 58.33,298.32 58.79,302.49 59.25,306.67 59.70,310.81 60.16,314.88 60.62,318.85 61.07,322.67 61.53,326.34 61.99,329.92 62.44,333.32 62.90,336.44 63.36,339.44 63.81,342.17 64.27,343.89 64.73,345.12 65.18,346.24 65.64,347.21 66.09,348.01 66.55,348.61 67.01,348.98 67.46,349.09 67.92,349.08 68.38,349.06 68.83,349.04 69.29,349.00 69.75,348.97 70.20,348.93 70.66,348.89 71.12,348.85 71.57,348.81 72.03,348.77 72.49,348.74 72.94,348.72 73.40,348.71 73.86,348.73 74.31,348.84 74.77,349.04 75.23,349.31 75.68,349.64 76.14,350.02 76.60,350.42 77.05,350.83 77.51,351.25 77.97,351.64 78.42,352.00 78.88,352.33 79.34,352.69 79.79,353.09 80.25,353.49 80.71,353.87 81.16,354.19 81.62,354.43 82.08,354.56 82.53,354.56 82.99,354.54 83.45,354.51 83.90,354.46 84.36,354.39 84.82,354.33 85.27,354.25 85.73,354.18 86.19,354.11 86.64,354.04 87.10,353.96 87.56,353.86 88.01,353.76 88.47,353.65 88.93,353.54 89.38,353.43 89.84,353.33 90.30,353.22 90.75,353.13 91.21,353.05 91.67,352.99 92.12,352.94 92.58,352.90 93.04,352.86 93.49,352.83 93.95,352.80 94.41,352.78 94.86,352.75 95.32,352.73 95.78,352.70 96.23,352.68 96.69,352.66 97.15,352.64 97.60,352.61 98.06,352.58 98.52,352.55 98.97,352.53 99.43,352.50 99.89,352.48 100.34,352.45 100.80,352.42 101.26,352.40 101.71,352.37 102.17,352.34 102.63,352.30 103.08,352.26 103.54,352.22 104.00,352.18 104.45,352.11 104.91,352.04 105.37,351.95 105.82,351.85 106.28,351.76 106.74,351.66 107.19,351.56 107.65,351.46 108.11,351.38 108.56,351.30 109.02,351.23 109.48,351.17 109.93,351.10 110.39,351.04 110.85,350.98 111.30,350.92 111.76,350.86 112.22,350.79 112.67,350.73 113.13,350.66 113.59,350.59 114.04,350.51 114.50,350.44 114.95,350.36 115.41,350.29 115.87,350.22 116.32,350.15 116.78,350.08 117.24,350.01 117.69,349.95 118.15,349.89 118.61,349.84 119.06,349.79 119.52,349.75 119.98,349.71 120.43,349.68 120.89,349.65 121.35,349.61 121.80,349.58 122.26,349.55 122.72,349.52 123.17,349.49 123.63,349.47 124.09,349.44 124.54,349.42 125.00,349.40 125.46,349.38 125.91,349.36 126.37,349.35 126.83,349.34 127.28,349.34 127.74,349.34 128.20,349.34 128.65,349.34 129.11,349.34 129.57,349.34 130.02,349.35 130.48,349.35 130.94,349.36 131.39,349.36 131.85,349.37 132.31,349.38 132.76,349.39 133.22,349.39 133.68,349.40 134.13,349.41 134.59,349.42 135.05,349.43 135.50,349.44 135.96,349.45 136.42,349.46 136.87,349.47 137.33,349.48 137.79,349.49 138.24,349.50 138.70,349.51 139.16,349.52 139.61,349.53 140.07,349.54 140.53,349.54 140.98,349.55 141.44,349.56 141.90,349.57 142.35,349.57 142.81,349.58 143.27,349.59 143.72,349.59 144.18,349.60 144.64,349.60 145.09,349.61 145.55,349.61 146.01,349.61 146.46,349.62 146.92,349.62 147.38,349.63 147.83,349.63 148.29,349.64 148.75,349.64 149.20,349.65 149.66,349.65 150.12,349.65 150.57,349.66 151.03,349.66 151.49,349.67 151.94,349.67 152.40,349.67 152.86,349.68 153.31,349.68 153.77,349.68 154.23,349.69 154.68,349.69 155.14,349.70 155.60,349.70 156.05,349.70 156.51,349.71 156.97,349.71 157.42,349.71 157.88,349.72 158.34,349.72 158.79,349.72 159.25,349.73 159.71,349.73 160.16,349.73 160.62,349.74 161.08,349.74 161.53,349.74 161.99,349.75 162.44,349.75 162.90,349.75 163.36,349.75 163.81,349.76 164.27,349.76 164.73,349.76 165.18,349.77 165.64,349.77 166.10,349.77 166.55,349.78 167.01,349.78 167.47,349.78 167.92,349.79 168.38,349.79 168.84,349.79 169.29,349.80 169.75,349.80 170.21,349.80 170.66,349.81 171.12,349.81 171.58,349.81 172.03,349.82 172.49,349.82 172.95,349.82 173.40,349.83 173.86,349.83 174.32,349.84 174.77,349.84 175.23,349.84 175.69,349.85 176.14,349.85 176.60,349.86 177.06,349.86 177.51,349.86 177.97,349.87 178.43,349.87 178.88,349.88 179.34,349.88 179.80,349.89 180.25,349.89 180.71,349.90 181.17,349.90 181.62,349.91 182.08,349.91 182.54,349.92 182.99,349.92 183.45,349.93 183.91,349.93 184.36,349.93 184.82,349.94 185.28,349.94 185.73,349.95 186.19,349.95 186.65,349.96 187.10,349.96 187.56,349.97 188.02,349.97 188.47,349.98 188.93,349.98 189.39,349.99 189.84,349.99 190.30,350.00 190.76,350.00 191.21,350.01 191.67,350.01 192.13,350.01 192.58,350.02 193.04,350.02 193.50,350.03 193.95,350.03 194.41,350.03 194.87,350.04 195.32,350.04 195.78,350.05 196.24,350.05 196.69,350.05 197.15,350.05 197.61,350.06 198.06,350.06 198.52,350.06 198.98,350.07 199.43,350.07 199.89,350.07 200.35,350.07 200.80,350.07 201.26,350.08 201.72,350.08 202.17,350.08 202.63,350.08 203.09,350.08 203.54,350.08 204.00,350.08 204.46,350.08 204.91,350.08 205.37,350.08 205.83,350.08 206.28,350.08 206.74,350.08 207.20,350.08 207.65,350.08 208.11,350.08 208.57,350.08 209.02,350.08 209.48,350.08 209.93,350.08 210.39,350.08 210.85,350.08 211.30,350.08 211.76,350.08 212.22,350.08 212.67,350.08 213.13,350.08 213.59,350.08 214.04,350.08 214.50,350.08 214.96,350.08 215.41,350.08 215.87,350.08 216.33,350.08 216.78,350.08 217.24,350.08 217.70,350.08 218.15,350.08 218.61,350.08 219.07,350.08 219.52,350.08 219.98,350.08 220.44,350.08 220.89,350.08 221.35,350.08 221.81,350.08 222.26,350.08 222.72,350.08 223.18,350.08 223.63,350.08 224.09,350.08 224.55,350.08 225.00,350.08 225.46,350.08 225.92,350.08 226.37,350.08 226.83,350.08 227.29,350.08 227.74,350.08 228.20,350.08 228.66,350.08 229.11,350.08 229.57,350.08 230.03,350.08 230.48,350.08 230.94,350.08 231.40,350.08 231.85,350.08 232.31,350.08 232.77,350.08 233.22,350.08 233.68,350.08" fill="none" stroke="#0a8a0a" stroke-width="1.2" clip-path="url(#c4)" stroke-linejoin="round" />
<path d="M50.40 375.00v-3.50M50.40 225.50v3.50M81.33 375.00v-3.50M81.33 225.50v3.50M112.27 375.00v-3.50M112.27 225.50v3.50M143.20 375.00v-3.50M143.20 225.50v3.50M174.13 375.00v-3.50M174.13 225.50v3.50M205.07 375.00v-3.50M205.07 225.50v3.50M236.00 375.00v-3.50M236.00 225.50v3.50M50.40 375.00h3.50M236.00 375.00h-3.50M50.40 350.08h3.50M236.00 350.08h-3.50M50.40 325.17h3.50M236.00 325.17h-3.50M50.40 300.25h3.50M236.00 300.25h-3.50M50.40 275.33h3.50M236.00 275.33h-3.50M50.40 250.42h3.50M236.00 250.42h-3.50M50.40 225.50h3.50M236.00 225.50h-3.50" stroke="#444" stroke-width="0.8" fill="none"/>
<rect x="50.40" y="225.50" width="185.60" height="149.50" fill="none" stroke="#222" stroke-width="1.2"/>
<rect x="117.70" y="232.10" width="111.50" height="99.90" fill="#fff"/>
<clipPath id="c5"><rect x="117.70" y="232.10" width="111.50" height="99.90"/></clipPath>
<line x1="117.70" y1="307.02" x2="229.20" y2="307.02" stroke="#333" stroke-width="1.5" stroke-dasharray="5.7 5.8" stroke-dashoffset="9.10" clip-path="url(#c5)"/>
<path d="M114.50 135.50V139.50M111.50 135.50h6.00M111.50 139.50h6.00M120.50 195.50V199.50M117.50 195.50h6.00M117.50 199.50h6.00M126.50 253.50V257.50M123.50 253.50h6.00M123.50 257.50h6.00M133.50 291.50V295.50M130.50 291.50h6.00M130.50 295.50h6.00M139.50 298.50V302.50M136.50 298.50h6.00M136.50 302.50h6.00M145.50 299.50V303.50M142.50 299.50h6.00M142.50 303.50h6.00M151.50 298.50V302.50M148.50 298.50h6.00M148.50 302.50h6.00M157.50 303.50V307.50M154.50 303.50h6.00M154.50 307.50h6.00M164.50 310.50V314.50M161.50 310.50h6.00M161.50 314.50h6.00M170.50 315.50V319.50M167.50 315.50h6.00M167.50 319.50h6.00M176.50 314.50V318.50M173.50 314.50h6.00M173.50 318.50h6.00M182.50 312.50V316.50M179.50 312.50h6.00M179.50 316.50h6.00M188.50 312.50V316.50M185.50 312.50h6.00M185.50 316.50h6.00M195.50 312.50V316.50M192.50 312.50h6.00M192.50 316.50h6.00M201.50 314.50V318.50M198.50 314.50h6.00M198.50 318.50h6.00M207.50 313.50V317.50M204.50 313.50h6.00M204.50 317.50h6.00M213.50 310.50V314.50M210.50 310.50h6.00M210.50 314.50h6.00M219.50 309.50V313.50M216.50 309.50h6.00M216.50 313.50h6.00M226.50 303.50V307.50M223.50 303.50h6.00M223.50 307.50h6.00M232.50 304.50V308.50M229.50 304.50h6.00M229.50 308.50h6.00" stroke="#4d4dff" stroke-width="1" fill="none" clip-path="url(#c5)"/>
<g fill="#0000ff" stroke="#00004a" stroke-width="0.6" clip-path="url(#c5)"><circle cx="114.60" cy="137.19" r="3"/><circle cx="120.80" cy="197.13" r="3"/><circle cx="126.99" cy="255.33" r="3"/><circle cx="133.19" cy="293.79" r="3"/><circle cx="139.38" cy="300.28" r="3"/><circle cx="145.57" cy="301.78" r="3"/><circle cx="151.77" cy="300.53" r="3"/><circle cx="157.96" cy="305.78" r="3"/><circle cx="164.16" cy="312.02" r="3"/><circle cx="170.35" cy="317.01" r="3"/><circle cx="176.55" cy="316.52" r="3"/><circle cx="182.74" cy="314.52" r="3"/><circle cx="188.94" cy="314.02" r="3"/><circle cx="195.13" cy="314.52" r="3"/><circle cx="201.32" cy="316.02" r="3"/><circle cx="207.52" cy="315.02" r="3"/><circle cx="213.71" cy="312.02" r="3"/><circle cx="219.91" cy="311.27" r="3"/><circle cx="226.10" cy="305.53" r="3"/><circle cx="232.30" cy="306.02" r="3"/></g>
<polyline points="107.48,79.75 107.80,82.30 108.12,84.88 108.44,87.52 108.76,90.21 109.08,92.93 109.40,95.67 109.72,98.44 110.04,101.23 110.36,104.04 110.69,106.86 111.01,109.70 111.33,112.56 111.65,115.43 111.97,118.31 112.29,121.20 112.61,124.09 112.93,127.00 113.25,129.91 113.57,132.82 113.89,135.73 114.21,138.64 114.53,141.55 114.85,144.46 115.17,147.39 115.49,150.34 115.81,153.30 116.14,156.28 116.46,159.26 116.78,162.26 117.10,165.26 117.42,168.26 117.74,171.27 118.06,174.27 118.38,177.28 118.70,180.27 119.02,183.27 119.34,186.25 119.66,189.22 119.98,192.18 120.30,195.13 120.62,198.05 120.94,200.96 121.26,203.88 121.59,206.81 121.91,209.75 122.23,212.68 122.55,215.62 122.87,218.56 123.19,221.48 123.51,224.40 123.83,227.31 124.15,230.19 124.47,233.06 124.79,235.91 125.11,238.73 125.43,241.52 125.75,244.28 126.07,247.00 126.39,249.69 126.71,252.33 127.04,254.93 127.36,257.50 127.68,260.07 128.00,262.61 128.32,265.12 128.64,267.59 128.96,270.01 129.28,272.37 129.60,274.67 129.92,276.90 130.24,279.03 130.56,281.11 130.88,283.23 131.20,285.36 131.52,287.43 131.84,289.39 132.16,291.15 132.49,292.65 132.81,293.83 133.13,294.74 133.45,295.62 133.77,296.48 134.09,297.31 134.41,298.11 134.73,298.89 135.05,299.62 135.37,300.33 135.69,300.99 136.01,301.62 136.33,302.20 136.65,302.73 136.97,303.21 137.29,303.65 137.61,304.02 137.94,304.35 138.26,304.61 138.58,304.81 138.90,304.95 139.22,305.02 139.54,305.03 139.86,305.02 140.18,305.02 140.50,305.01 140.82,305.00 141.14,304.99 141.46,304.97 141.78,304.95 142.10,304.93 142.42,304.91 142.74,304.89 143.06,304.87 143.39,304.84 143.71,304.82 144.03,304.79 144.35,304.76 144.67,304.73 144.99,304.71 145.31,304.68 145.63,304.65 145.95,304.62 146.27,304.59 146.59,304.56 146.91,304.53 147.23,304.51 147.55,304.48 147.87,304.45 148.19,304.43 148.51,304.41 148.84,304.38 149.16,304.36 149.48,304.35 149.80,304.33 150.12,304.31 150.44,304.30 150.76,304.29 151.08,304.28 151.40,304.28 151.72,304.28 152.04,304.29 152.36,304.32 152.68,304.39 153.00,304.47 153.32,304.58 153.64,304.71 153.96,304.86 154.29,305.03 154.61,305.21 154.93,305.41 155.25,305.63 155.57,305.86 155.89,306.10 156.21,306.35 156.53,306.62 156.85,306.89 157.17,307.16 157.49,307.45 157.81,307.74 158.13,308.03 158.45,308.32 158.77,308.61 159.09,308.90 159.41,309.19 159.74,309.48 160.06,309.76 160.38,310.03 160.70,310.30 161.02,310.56 161.34,310.80 161.66,311.04 161.98,311.26 162.30,311.49 162.62,311.73 162.94,311.98 163.26,312.25 163.58,312.52 163.90,312.80 164.22,313.09 164.54,313.37 164.86,313.65 165.19,313.93 165.51,314.21 165.83,314.47 166.15,314.72 166.47,314.95 166.79,315.17 167.11,315.37 167.43,315.55 167.75,315.70 168.07,315.83 168.39,315.92 168.71,315.99 169.03,316.01 169.35,316.01 169.67,316.01 169.99,316.00 170.31,315.98 170.64,315.96 170.96,315.94 171.28,315.91 171.60,315.88 171.92,315.85 172.24,315.81 172.56,315.77 172.88,315.73 173.20,315.68 173.52,315.64 173.84,315.59 174.16,315.54 174.48,315.49 174.80,315.44 175.12,315.39 175.44,315.34 175.76,315.29 176.09,315.23 176.41,315.18 176.73,315.13 177.05,315.08 177.37,315.03 177.69,314.98 178.01,314.93 178.33,314.88 178.65,314.82 178.97,314.76 179.29,314.69 179.61,314.63 179.93,314.56 180.25,314.48 180.57,314.41 180.89,314.34 181.21,314.26 181.54,314.19 181.86,314.11 182.18,314.03 182.50,313.95 182.82,313.87 183.14,313.80 183.46,313.72 183.78,313.64 184.10,313.57 184.42,313.49 184.74,313.42 185.06,313.35 185.38,313.28 185.70,313.22 186.02,313.15 186.34,313.09 186.66,313.04 186.99,312.98 187.31,312.93 187.63,312.89 187.95,312.84 188.27,312.81 188.59,312.77 188.91,312.74 189.23,312.71 189.55,312.69 189.87,312.66 190.19,312.64 190.51,312.61 190.83,312.59 191.15,312.56 191.47,312.54 191.79,312.52 192.11,312.50 192.44,312.48 192.76,312.46 193.08,312.44 193.40,312.42 193.72,312.41 194.04,312.39 194.36,312.37 194.68,312.36 195.00,312.34 195.32,312.32 195.64,312.31 195.96,312.29 196.28,312.27 196.60,312.26 196.92,312.24 197.24,312.23 197.56,312.21 197.89,312.20 198.21,312.18 198.53,312.16 198.85,312.15 199.17,312.13 199.49,312.11 199.81,312.09 200.13,312.07 200.45,312.06 200.77,312.04 201.09,312.02 201.41,312.00 201.73,311.98 202.05,311.96 202.37,311.94 202.69,311.92 203.01,311.90 203.34,311.88 203.66,311.86 203.98,311.85 204.30,311.83 204.62,311.81 204.94,311.79 205.26,311.77 205.58,311.76 205.90,311.74 206.22,311.72 206.54,311.70 206.86,311.68 207.18,311.66 207.50,311.64 207.82,311.62 208.14,311.60 208.46,311.58 208.79,311.55 209.11,311.53 209.43,311.51 209.75,311.48 210.07,311.46 210.39,311.43 210.71,311.41 211.03,311.38 211.35,311.35 211.67,311.32 211.99,311.29 212.31,311.26 212.63,311.22 212.95,311.18 213.27,311.13 213.59,311.09 213.91,311.04 214.24,310.98 214.56,310.92 214.88,310.86 215.20,310.80 215.52,310.74 215.84,310.67 216.16,310.61 216.48,310.54 216.80,310.47 217.12,310.40 217.44,310.33 217.76,310.26 218.08,310.19 218.40,310.12 218.72,310.05 219.04,309.98 219.36,309.91 219.69,309.85 220.01,309.78 220.33,309.72 220.65,309.66 220.97,309.60 221.29,309.55 221.61,309.50 221.93,309.45 222.25,309.40 222.57,309.35 222.89,309.30 223.21,309.26 223.53,309.21 223.85,309.17 224.17,309.12 224.49,309.08 224.81,309.03 225.14,308.99 225.46,308.95 225.78,308.90 226.10,308.86 226.42,308.82 226.74,308.77 227.06,308.73 227.38,308.69 227.70,308.64 228.02,308.60 228.34,308.56 228.66,308.51 228.98,308.47 229.30,308.42 229.62,308.37 229.94,308.33 230.27,308.28 230.59,308.23 230.91,308.18 231.23,308.13 231.55,308.08 231.87,308.03 232.19,307.98 232.51,307.93 232.83,307.87 233.15,307.82 233.47,307.77 233.79,307.72 234.11,307.67 234.43,307.61 234.75,307.56 235.07,307.51 235.39,307.46" fill="none" stroke="#0a8a0a" stroke-width="1.2" clip-path="url(#c5)" stroke-linejoin="round" />
<path d="M120.80 332.00v-3.00M120.80 232.10v3.00M136.28 332.00v-3.00M136.28 232.10v3.00M151.77 332.00v-3.00M151.77 232.10v3.00M167.26 332.00v-3.00M167.26 232.10v3.00M182.74 332.00v-3.00M182.74 232.10v3.00M198.23 332.00v-3.00M198.23 232.10v3.00M213.71 332.00v-3.00M213.71 232.10v3.00M117.70 319.51h3.00M229.20 319.51h-3.00M117.70 307.02h3.00M229.20 307.02h-3.00M117.70 294.54h3.00M229.20 294.54h-3.00M117.70 282.05h3.00M229.20 282.05h-3.00M117.70 269.56h3.00M229.20 269.56h-3.00M117.70 257.07h3.00M229.20 257.07h-3.00M117.70 244.59h3.00M229.20 244.59h-3.00" stroke="#444" stroke-width="0.8" fill="none"/>
<rect x="117.70" y="232.10" width="111.50" height="99.90" fill="none" stroke="#222" stroke-width="1.2"/>
<rect x="56.59" y="312.71" width="55.68" height="49.83" fill="none" stroke="#8c8c8c" stroke-width="1"/>
<path d="M56.59 312.71L117.70 232.10M112.27 362.54L229.20 332.00" stroke="#8c8c8c" stroke-width="1" fill="none"/>
<text x="32.00" y="378.20" font-size="12.32" textLength="15.97" lengthAdjust="spacingAndGlyphs" stroke-width="0.12">−2</text>
<text x="41.00" y="353.28" font-size="12.32" textLength="6.75" lengthAdjust="spacingAndGlyphs" stroke-width="0.12">0</text>
<text x="40.97" y="328.37" font-size="12.32" textLength="6.65" lengthAdjust="spacingAndGlyphs" stroke-width="0.12">2</text>
<text x="40.87" y="303.45" font-size="12.32" textLength="6.76" lengthAdjust="spacingAndGlyphs" stroke-width="0.12">4</text>
<text x="40.96" y="278.53" font-size="12.32" textLength="6.71" lengthAdjust="spacingAndGlyphs" stroke-width="0.12">6</text>
<text x="41.02" y="253.62" font-size="12.32" textLength="6.72" lengthAdjust="spacingAndGlyphs" stroke-width="0.12">8</text>
<text x="33.92" y="228.70" font-size="12.32" textLength="14.04" lengthAdjust="spacingAndGlyphs" stroke-width="0.12">10</text>
<text x="47.70" y="387.90" font-size="12.32" textLength="6.75" lengthAdjust="spacingAndGlyphs" stroke-width="0.12">0</text>
<text x="71.56" y="387.90" font-size="12.32" textLength="21.26" lengthAdjust="spacingAndGlyphs" stroke-width="0.12">200</text>
<text x="102.43" y="387.90" font-size="12.32" textLength="21.34" lengthAdjust="spacingAndGlyphs" stroke-width="0.12">400</text>
<text x="133.43" y="387.90" font-size="12.32" textLength="21.26" lengthAdjust="spacingAndGlyphs" stroke-width="0.12">600</text>
<text x="164.42" y="387.90" font-size="12.32" textLength="21.20" lengthAdjust="spacingAndGlyphs" stroke-width="0.12">800</text>
<text x="191.77" y="387.90" font-size="12.32" textLength="28.49" lengthAdjust="spacingAndGlyphs" stroke-width="0.12">1000</text>
<text x="222.71" y="387.90" font-size="12.32" textLength="28.49" lengthAdjust="spacingAndGlyphs" stroke-width="0.12">1200</text>
<text x="119.78" y="403.00" font-size="12.32" textLength="48.17" lengthAdjust="spacingAndGlyphs" stroke-width="0.12">Ruv (kλ)</text>
<text x="80.67" y="214.40" font-size="8.51" textLength="9.61" lengthAdjust="spacingAndGlyphs" stroke-width="0.08">12</text>
<text x="92.33" y="220.60" font-size="15.23" textLength="113.61" lengthAdjust="spacingAndGlyphs" stroke-width="0.20">CO 2-1 visibility</text>
<g transform="translate(23.50 347.20) rotate(-90)">
<text x="0.22" y="0.00" font-size="12.32" textLength="74.87" lengthAdjust="spacingAndGlyphs" stroke-width="0.12">Real (Jy km s</text>
<text x="75.32" y="-4.60" font-size="8.62" textLength="10.85" lengthAdjust="spacingAndGlyphs" stroke-width="0.08">−1</text>
<text x="89.10" y="0.00" font-size="12.32" textLength="3.54" lengthAdjust="spacingAndGlyphs" stroke-width="0.12">)</text>
</g>
<clipPath id="c6"><rect x="292.00" y="225.60" width="186.00" height="149.40"/></clipPath>
<line x1="292.00" y1="358.40" x2="478.00" y2="358.40" stroke="#333" stroke-width="1.5" stroke-dasharray="5.7 5.8" stroke-dashoffset="9.70" clip-path="url(#c6)"/>
<path d="M293.50 248.50V250.50M290.50 248.50h6.00M290.50 250.50h6.00M296.50 269.50V271.50M293.50 269.50h6.00M293.50 271.50h6.00M299.50 293.50V295.50M296.50 293.50h6.00M296.50 295.50h6.00M302.50 320.50V322.50M299.50 320.50h6.00M299.50 322.50h6.00M305.50 342.50V344.50M302.50 342.50h6.00M302.50 344.50h6.00M309.50 358.50V360.50M306.50 358.50h6.00M306.50 360.50h6.00M312.50 363.50V365.50M309.50 363.50h6.00M309.50 365.50h6.00M315.50 363.50V365.50M312.50 363.50h6.00M312.50 365.50h6.00M318.50 363.50V365.50M315.50 363.50h6.00M315.50 365.50h6.00M321.50 362.50V364.50M318.50 362.50h6.00M318.50 364.50h6.00M324.50 365.50V367.50M321.50 365.50h6.00M321.50 367.50h6.00M327.50 363.50V365.50M324.50 363.50h6.00M324.50 365.50h6.00M330.50 364.50V366.50M327.50 364.50h6.00M327.50 366.50h6.00M333.50 362.50V364.50M330.50 362.50h6.00M330.50 364.50h6.00M336.50 362.50V364.50M333.50 362.50h6.00M333.50 364.50h6.00M340.50 360.50V362.50M337.50 360.50h6.00M337.50 362.50h6.00M343.50 358.50V360.50M340.50 358.50h6.00M340.50 360.50h6.00M346.50 356.50V358.50M343.50 356.50h6.00M343.50 358.50h6.00M349.50 359.50V361.50M346.50 359.50h6.00M346.50 361.50h6.00M352.50 355.50V357.50M349.50 355.50h6.00M349.50 357.50h6.00M355.50 356.50V358.50M352.50 356.50h6.00M352.50 358.50h6.00M358.50 358.50V360.50M355.50 358.50h6.00M355.50 360.50h6.00M362.50 354.50V357.50M359.50 354.50h6.00M359.50 357.50h6.00M364.50 355.50V357.50M361.50 355.50h6.00M361.50 357.50h6.00M367.50 353.50V356.50M364.50 353.50h6.00M364.50 356.50h6.00M371.50 356.50V359.50M368.50 356.50h6.00M368.50 359.50h6.00M374.50 354.50V357.50M371.50 354.50h6.00M371.50 357.50h6.00M377.50 352.50V355.50M374.50 352.50h6.00M374.50 355.50h6.00M380.50 355.50V358.50M377.50 355.50h6.00M377.50 358.50h6.00M383.50 356.50V359.50M380.50 356.50h6.00M380.50 359.50h6.00M386.50 357.50V360.50M383.50 357.50h6.00M383.50 360.50h6.00M389.50 355.50V358.50M386.50 355.50h6.00M386.50 358.50h6.00M392.50 358.50V362.50M389.50 358.50h6.00M389.50 362.50h6.00M394.50 356.50V360.50M391.50 356.50h6.00M391.50 360.50h6.00M396.50 354.50V358.50M393.50 354.50h6.00M393.50 358.50h6.00M400.50 355.50V359.50M397.50 355.50h6.00M397.50 359.50h6.00M402.50 356.50V360.50M399.50 356.50h6.00M399.50 360.50h6.00M404.50 359.50V364.50M401.50 359.50h6.00M401.50 364.50h6.00M408.50 355.50V360.50M405.50 355.50h6.00M405.50 360.50h6.00M411.50 352.50V357.50M408.50 352.50h6.00M408.50 357.50h6.00M414.50 355.50V360.50M411.50 355.50h6.00M411.50 360.50h6.00M418.50 355.50V361.50M415.50 355.50h6.00M415.50 361.50h6.00M420.50 358.50V364.50M417.50 358.50h6.00M417.50 364.50h6.00M423.50 358.50V364.50M420.50 358.50h6.00M420.50 364.50h6.00M426.50 358.50V365.50M423.50 358.50h6.00M423.50 365.50h6.00M429.50 353.50V360.50M426.50 353.50h6.00M426.50 360.50h6.00M433.50 360.50V367.50M430.50 360.50h6.00M430.50 367.50h6.00M435.50 348.50V356.50M432.50 348.50h6.00M432.50 356.50h6.00M439.50 356.50V364.50M436.50 356.50h6.00M436.50 364.50h6.00M442.50 344.50V352.50M439.50 344.50h6.00M439.50 352.50h6.00M445.50 353.50V362.50M442.50 353.50h6.00M442.50 362.50h6.00M448.50 347.50V357.50M445.50 347.50h6.00M445.50 357.50h6.00M454.50 348.50V358.50M451.50 348.50h6.00M451.50 358.50h6.00M457.50 361.50V372.50M454.50 361.50h6.00M454.50 372.50h6.00M466.50 356.50V368.50M463.50 356.50h6.00M463.50 368.50h6.00" stroke="#4d4dff" stroke-width="1" fill="none" clip-path="url(#c6)"/>
<g fill="#0000ff" stroke="#00004a" stroke-width="0.6" clip-path="url(#c6)"><circle cx="293.55" cy="249.50" r="3"/><circle cx="296.65" cy="270.75" r="3"/><circle cx="299.75" cy="294.99" r="3"/><circle cx="302.85" cy="321.22" r="3"/><circle cx="305.95" cy="343.46" r="3"/><circle cx="309.05" cy="359.23" r="3"/><circle cx="312.15" cy="364.71" r="3"/><circle cx="315.25" cy="364.04" r="3"/><circle cx="318.35" cy="364.41" r="3"/><circle cx="321.45" cy="363.45" r="3"/><circle cx="324.55" cy="366.33" r="3"/><circle cx="327.65" cy="364.21" r="3"/><circle cx="330.75" cy="365.17" r="3"/><circle cx="333.85" cy="363.11" r="3"/><circle cx="336.95" cy="363.75" r="3"/><circle cx="340.05" cy="361.09" r="3"/><circle cx="343.15" cy="359.03" r="3"/><circle cx="346.25" cy="357.40" r="3"/><circle cx="349.35" cy="360.66" r="3"/><circle cx="352.45" cy="356.21" r="3"/><circle cx="355.55" cy="357.40" r="3"/><circle cx="358.65" cy="359.60" r="3"/><circle cx="362.22" cy="356.11" r="3"/><circle cx="364.85" cy="356.74" r="3"/><circle cx="367.49" cy="355.21" r="3"/><circle cx="371.82" cy="357.80" r="3"/><circle cx="374.46" cy="356.41" r="3"/><circle cx="377.25" cy="353.82" r="3"/><circle cx="380.81" cy="356.91" r="3"/><circle cx="383.45" cy="357.74" r="3"/><circle cx="386.09" cy="358.70" r="3"/><circle cx="389.65" cy="356.91" r="3"/><circle cx="392.28" cy="360.49" r="3"/><circle cx="394.30" cy="358.40" r="3"/><circle cx="396.78" cy="356.91" r="3"/><circle cx="400.19" cy="357.30" r="3"/><circle cx="402.36" cy="358.40" r="3"/><circle cx="405.00" cy="362.18" r="3"/><circle cx="408.25" cy="357.80" r="3"/><circle cx="411.35" cy="355.21" r="3"/><circle cx="414.45" cy="357.80" r="3"/><circle cx="418.01" cy="358.80" r="3"/><circle cx="420.65" cy="361.39" r="3"/><circle cx="423.75" cy="361.39" r="3"/><circle cx="426.85" cy="362.18" r="3"/><circle cx="429.80" cy="357.30" r="3"/><circle cx="433.05" cy="363.98" r="3"/><circle cx="436.00" cy="352.19" r="3"/><circle cx="439.25" cy="360.49" r="3"/><circle cx="442.19" cy="348.61" r="3"/><circle cx="445.45" cy="358.40" r="3"/><circle cx="448.39" cy="352.52" r="3"/><circle cx="454.60" cy="353.82" r="3"/><circle cx="457.85" cy="366.70" r="3"/><circle cx="467.00" cy="362.18" r="3"/></g>
<polyline points="292.62,240.21 293.06,244.46 293.49,248.38 293.93,251.83 294.37,255.00 294.81,257.98 295.24,260.85 295.68,263.70 296.12,266.64 296.56,269.73 296.99,273.02 297.43,276.42 297.87,279.91 298.31,283.45 298.74,287.04 299.18,290.64 299.62,294.24 300.06,297.86 300.49,301.60 300.93,305.39 301.37,309.18 301.81,312.91 302.24,316.52 302.68,319.95 303.12,323.16 303.56,326.20 303.99,329.11 304.43,331.93 304.87,334.69 305.31,337.39 305.74,340.00 306.18,342.55 306.62,345.12 307.05,347.81 307.49,350.50 307.93,353.04 308.37,355.28 308.80,357.10 309.24,358.81 309.68,360.46 310.12,361.97 310.55,363.24 310.99,364.18 311.43,364.68 311.87,364.86 312.30,365.01 312.74,365.11 313.18,365.17 313.62,365.17 314.05,365.12 314.49,365.04 314.93,364.93 315.37,364.80 315.80,364.66 316.24,364.53 316.68,364.41 317.12,364.31 317.55,364.24 317.99,364.21 318.43,364.21 318.87,364.22 319.30,364.24 319.74,364.27 320.18,364.30 320.61,364.34 321.05,364.38 321.49,364.43 321.93,364.48 322.36,364.54 322.80,364.59 323.24,364.65 323.68,364.72 324.11,364.80 324.55,364.92 324.99,365.07 325.43,365.24 325.86,365.42 326.30,365.60 326.74,365.78 327.18,365.96 327.61,366.11 328.05,366.25 328.49,366.35 328.93,366.44 329.36,366.53 329.80,366.62 330.24,366.70 330.68,366.78 331.11,366.84 331.55,366.88 331.99,366.90 332.43,366.89 332.86,366.87 333.30,366.83 333.74,366.78 334.17,366.72 334.61,366.65 335.05,366.58 335.49,366.48 335.92,366.35 336.36,366.19 336.80,366.01 337.24,365.81 337.67,365.60 338.11,365.39 338.55,365.17 338.99,364.97 339.42,364.77 339.86,364.60 340.30,364.42 340.74,364.24 341.17,364.07 341.61,363.89 342.05,363.72 342.49,363.54 342.92,363.36 343.36,363.18 343.80,363.00 344.24,362.82 344.67,362.63 345.11,362.43 345.55,362.24 345.99,362.04 346.42,361.84 346.86,361.63 347.30,361.43 347.73,361.23 348.17,361.04 348.61,360.84 349.05,360.65 349.48,360.47 349.92,360.28 350.36,360.10 350.80,359.92 351.23,359.74 351.67,359.57 352.11,359.39 352.55,359.22 352.98,359.04 353.42,358.87 353.86,358.70 354.30,358.52 354.73,358.33 355.17,358.15 355.61,357.96 356.05,357.77 356.48,357.59 356.92,357.42 357.36,357.27 357.80,357.12 358.23,357.00 358.67,356.90 359.11,356.81 359.55,356.73 359.98,356.64 360.42,356.55 360.86,356.47 361.29,356.39 361.73,356.31 362.17,356.24 362.61,356.17 363.04,356.10 363.48,356.04 363.92,355.98 364.36,355.93 364.79,355.89 365.23,355.84 365.67,355.81 366.11,355.78 366.54,355.76 366.98,355.75 367.42,355.74 367.86,355.75 368.29,355.75 368.73,355.76 369.17,355.77 369.61,355.79 370.04,355.81 370.48,355.84 370.92,355.86 371.36,355.89 371.79,355.93 372.23,355.96 372.67,356.00 373.11,356.04 373.54,356.08 373.98,356.13 374.42,356.17 374.85,356.22 375.29,356.27 375.73,356.32 376.17,356.37 376.60,356.42 377.04,356.48 377.48,356.53 377.92,356.59 378.35,356.64 378.79,356.70 379.23,356.75 379.67,356.81 380.10,356.86 380.54,356.91 380.98,356.97 381.42,357.02 381.85,357.07 382.29,357.12 382.73,357.17 383.17,357.21 383.60,357.26 384.04,357.30 384.48,357.34 384.92,357.38 385.35,357.42 385.79,357.46 386.23,357.50 386.66,357.54 387.10,357.58 387.54,357.62 387.98,357.66 388.41,357.70 388.85,357.75 389.29,357.79 389.73,357.83 390.16,357.88 390.60,357.92 391.04,357.97 391.48,358.01 391.91,358.05 392.35,358.10 392.79,358.14 393.23,358.18 393.66,358.22 394.10,358.26 394.54,358.30 394.98,358.34 395.41,358.38 395.85,358.41 396.29,358.45 396.73,358.48 397.16,358.51 397.60,358.54 398.04,358.57 398.48,358.60 398.91,358.62 399.35,358.64 399.79,358.66 400.22,358.68 400.66,358.70 401.10,358.71 401.54,358.72 401.97,358.73 402.41,358.73 402.85,358.73 403.29,358.73 403.72,358.73 404.16,358.73 404.60,358.73 405.04,358.73 405.47,358.73 405.91,358.73 406.35,358.73 406.79,358.73 407.22,358.73 407.66,358.73 408.10,358.73 408.54,358.73 408.97,358.73 409.41,358.73 409.85,358.73 410.29,358.73 410.72,358.73 411.16,358.73 411.60,358.73 412.04,358.73 412.47,358.73 412.91,358.73 413.35,358.73 413.78,358.73 414.22,358.73 414.66,358.73 415.10,358.73 415.53,358.73 415.97,358.73 416.41,358.73 416.85,358.73 417.28,358.73 417.72,358.73 418.16,358.73 418.60,358.73 419.03,358.73 419.47,358.73 419.91,358.73 420.35,358.73 420.78,358.73 421.22,358.73 421.66,358.72 422.10,358.71 422.53,358.70 422.97,358.68 423.41,358.67 423.85,358.65 424.28,358.62 424.72,358.60 425.16,358.57 425.60,358.55 426.03,358.52 426.47,358.49 426.91,358.46 427.34,358.43 427.78,358.39 428.22,358.36 428.66,358.33 429.09,358.29 429.53,358.26 429.97,358.22 430.41,358.19 430.84,358.16 431.28,358.12 431.72,358.09 432.16,358.06 432.59,358.03 433.03,358.00 433.47,357.97 433.91,357.95 434.34,357.92 434.78,357.90 435.22,357.88 435.66,357.86 436.09,357.84 436.53,357.83 436.97,357.82 437.41,357.81 437.84,357.80 438.28,357.80 438.72,357.80 439.16,357.80 439.59,357.80 440.03,357.80 440.47,357.80 440.90,357.80 441.34,357.80 441.78,357.80 442.22,357.80 442.65,357.80 443.09,357.80 443.53,357.80 443.97,357.80 444.40,357.80 444.84,357.80 445.28,357.80 445.72,357.80 446.15,357.80 446.59,357.80 447.03,357.80 447.47,357.80 447.90,357.80 448.34,357.80 448.78,357.80 449.22,357.80 449.65,357.80 450.09,357.80 450.53,357.80 450.97,357.80 451.40,357.80 451.84,357.80 452.28,357.80 452.72,357.80 453.15,357.80 453.59,357.80 454.03,357.80 454.46,357.80 454.90,357.80 455.34,357.80 455.78,357.80 456.21,357.80 456.65,357.80 457.09,357.80 457.53,357.80 457.96,357.80 458.40,357.80 458.84,357.80 459.28,357.80 459.71,357.80 460.15,357.80 460.59,357.80 461.03,357.80 461.46,357.80 461.90,357.80 462.34,357.80 462.78,357.80 463.21,357.80 463.65,357.80 464.09,357.80 464.53,357.80 464.96,357.80 465.40,357.80 465.84,357.80 466.28,357.80 466.71,357.80 467.15,357.80" fill="none" stroke="#0a8a0a" stroke-width="1.2" clip-path="url(#c6)" stroke-linejoin="round" />
<path d="M292.00 375.00v-3.50M292.00 225.60v3.50M323.00 375.00v-3.50M323.00 225.60v3.50M354.00 375.00v-3.50M354.00 225.60v3.50M385.00 375.00v-3.50M385.00 225.60v3.50M416.00 375.00v-3.50M416.00 225.60v3.50M447.00 375.00v-3.50M447.00 225.60v3.50M478.00 375.00v-3.50M478.00 225.60v3.50M292.00 375.00h3.50M478.00 375.00h-3.50M292.00 358.40h3.50M478.00 358.40h-3.50M292.00 341.80h3.50M478.00 341.80h-3.50M292.00 325.20h3.50M478.00 325.20h-3.50M292.00 308.60h3.50M478.00 308.60h-3.50M292.00 292.00h3.50M478.00 292.00h-3.50M292.00 275.40h3.50M478.00 275.40h-3.50M292.00 258.80h3.50M478.00 258.80h-3.50M292.00 242.20h3.50M478.00 242.20h-3.50M292.00 225.60h3.50M478.00 225.60h-3.50" stroke="#444" stroke-width="0.8" fill="none"/>
<rect x="292.00" y="225.60" width="186.00" height="149.40" fill="none" stroke="#222" stroke-width="1.2"/>
<rect x="359.50" y="232.30" width="111.60" height="72.70" fill="#fff"/>
<clipPath id="c7"><rect x="359.50" y="232.30" width="111.60" height="72.70"/></clipPath>
<line x1="359.50" y1="278.56" x2="471.10" y2="278.56" stroke="#333" stroke-width="1.5" stroke-dasharray="5.7 5.8" stroke-dashoffset="9.10" clip-path="url(#c7)"/>
<path d="M356.50 102.50V106.50M353.50 102.50h6.00M353.50 106.50h6.00M362.50 150.50V154.50M359.50 150.50h6.00M359.50 154.50h6.00M368.50 202.50V206.50M365.50 202.50h6.00M365.50 206.50h6.00M375.50 246.50V250.50M372.50 246.50h6.00M372.50 250.50h6.00M381.50 278.50V282.50M378.50 278.50h6.00M378.50 282.50h6.00M387.50 289.50V293.50M384.50 289.50h6.00M384.50 293.50h6.00M393.50 287.50V291.50M390.50 287.50h6.00M390.50 291.50h6.00M399.50 288.50V292.50M396.50 288.50h6.00M396.50 292.50h6.00M406.50 286.50V290.50M403.50 286.50h6.00M403.50 290.50h6.00M412.50 292.50V296.50M409.50 292.50h6.00M409.50 296.50h6.00M418.50 288.50V292.50M415.50 288.50h6.00M415.50 292.50h6.00M424.50 290.50V294.50M421.50 290.50h6.00M421.50 294.50h6.00M430.50 285.50V289.50M427.50 285.50h6.00M427.50 289.50h6.00M437.50 287.50V291.50M434.50 287.50h6.00M434.50 291.50h6.00M443.50 281.50V285.50M440.50 281.50h6.00M440.50 285.50h6.00M449.50 277.50V281.50M446.50 277.50h6.00M446.50 281.50h6.00M455.50 274.50V278.50M452.50 274.50h6.00M452.50 278.50h6.00M461.50 281.50V285.50M458.50 281.50h6.00M458.50 285.50h6.00M468.50 272.50V276.50M465.50 272.50h6.00M465.50 276.50h6.00M474.50 274.50V278.50M471.50 274.50h6.00M471.50 278.50h6.00" stroke="#4d4dff" stroke-width="1" fill="none" clip-path="url(#c7)"/>
<g fill="#0000ff" stroke="#00004a" stroke-width="0.6" clip-path="url(#c7)"><circle cx="356.40" cy="104.08" r="3"/><circle cx="362.60" cy="152.33" r="3"/><circle cx="368.80" cy="204.54" r="3"/><circle cx="375.00" cy="248.82" r="3"/><circle cx="381.20" cy="280.22" r="3"/><circle cx="387.40" cy="291.12" r="3"/><circle cx="393.60" cy="289.80" r="3"/><circle cx="399.80" cy="290.53" r="3"/><circle cx="406.00" cy="288.61" r="3"/><circle cx="412.20" cy="294.36" r="3"/><circle cx="418.40" cy="290.13" r="3"/><circle cx="424.60" cy="292.05" r="3"/><circle cx="430.80" cy="287.95" r="3"/><circle cx="437.00" cy="289.20" r="3"/><circle cx="443.20" cy="283.92" r="3"/><circle cx="449.40" cy="279.82" r="3"/><circle cx="455.60" cy="276.58" r="3"/><circle cx="461.80" cy="283.06" r="3"/><circle cx="468.00" cy="274.20" r="3"/><circle cx="474.20" cy="276.58" r="3"/></g>
<polyline points="348.34,43.28 348.66,46.44 348.99,49.56 349.31,52.63 349.63,55.59 349.96,58.43 350.28,61.10 350.60,63.66 350.93,66.13 351.25,68.53 351.57,70.85 351.90,73.12 352.22,75.33 352.54,77.50 352.86,79.64 353.19,81.76 353.51,83.86 353.83,85.96 354.16,88.05 354.48,90.16 354.80,92.30 355.13,94.46 355.45,96.65 355.77,98.90 356.10,101.20 356.42,103.57 356.74,105.99 357.07,108.44 357.39,110.92 357.71,113.42 358.04,115.95 358.36,118.50 358.68,121.07 359.01,123.66 359.33,126.26 359.65,128.88 359.98,131.51 360.30,134.14 360.62,136.79 360.95,139.44 361.27,142.09 361.59,144.74 361.91,147.39 362.24,150.03 362.56,152.67 362.88,155.33 363.21,158.02 363.53,160.74 363.85,163.49 364.18,166.26 364.50,169.04 364.82,171.84 365.15,174.63 365.47,177.42 365.79,180.21 366.12,182.98 366.44,185.72 366.76,188.44 367.09,191.12 367.41,193.77 367.73,196.36 368.06,198.91 368.38,201.40 368.70,203.82 369.03,206.18 369.35,208.49 369.67,210.76 369.99,212.99 370.32,215.18 370.64,217.34 370.96,219.46 371.29,221.57 371.61,223.64 371.93,225.70 372.26,227.74 372.58,229.77 372.90,231.79 373.23,233.80 373.55,235.77 373.87,237.72 374.20,239.64 374.52,241.55 374.84,243.43 375.17,245.31 375.49,247.18 375.81,249.04 376.14,250.94 376.46,252.88 376.78,254.86 377.11,256.85 377.43,258.84 377.75,260.83 378.08,262.78 378.40,264.70 378.72,266.56 379.04,268.35 379.37,270.06 379.69,271.67 380.01,273.17 380.34,274.54 380.66,275.79 380.98,277.04 381.31,278.30 381.63,279.55 381.95,280.79 382.28,282.00 382.60,283.18 382.92,284.31 383.25,285.39 383.57,286.41 383.89,287.36 384.22,288.23 384.54,289.00 384.86,289.67 385.19,290.23 385.51,290.67 385.83,290.98 386.16,291.16 386.48,291.29 386.80,291.41 387.12,291.53 387.45,291.64 387.77,291.73 388.09,291.82 388.42,291.89 388.74,291.95 389.06,292.00 389.39,292.03 389.71,292.04 390.03,292.04 390.36,292.03 390.68,292.01 391.00,291.97 391.33,291.92 391.65,291.86 391.97,291.80 392.30,291.73 392.62,291.65 392.94,291.56 393.27,291.47 393.59,291.37 393.91,291.28 394.24,291.18 394.56,291.08 394.88,290.98 395.21,290.88 395.53,290.78 395.85,290.69 396.17,290.60 396.50,290.52 396.82,290.44 397.14,290.36 397.47,290.30 397.79,290.25 398.11,290.20 398.44,290.16 398.76,290.14 399.08,290.13 399.41,290.13 399.73,290.13 400.05,290.14 400.38,290.14 400.70,290.15 401.02,290.17 401.35,290.18 401.67,290.19 401.99,290.21 402.32,290.23 402.64,290.25 402.96,290.27 403.29,290.30 403.61,290.32 403.93,290.35 404.25,290.38 404.58,290.41 404.90,290.44 405.22,290.47 405.55,290.51 405.87,290.54 406.19,290.58 406.52,290.62 406.84,290.65 407.16,290.69 407.49,290.73 407.81,290.78 408.13,290.82 408.46,290.86 408.78,290.90 409.10,290.95 409.43,290.99 409.75,291.04 410.07,291.08 410.40,291.13 410.72,291.18 411.04,291.25 411.37,291.32 411.69,291.40 412.01,291.49 412.34,291.59 412.66,291.70 412.98,291.81 413.30,291.93 413.63,292.05 413.95,292.18 414.27,292.31 414.60,292.44 414.92,292.57 415.24,292.71 415.57,292.84 415.89,292.98 416.21,293.11 416.54,293.24 416.86,293.37 417.18,293.50 417.51,293.62 417.83,293.74 418.15,293.86 418.48,293.96 418.80,294.07 419.12,294.16 419.45,294.24 419.77,294.32 420.09,294.39 420.42,294.46 420.74,294.52 421.06,294.59 421.39,294.66 421.71,294.73 422.03,294.80 422.35,294.86 422.68,294.93 423.00,294.99 423.32,295.05 423.65,295.11 423.97,295.16 424.29,295.22 424.62,295.26 424.94,295.31 425.26,295.35 425.59,295.38 425.91,295.42 426.23,295.44 426.56,295.46 426.88,295.47 427.20,295.48 427.53,295.48 427.85,295.48 428.17,295.47 428.50,295.45 428.82,295.43 429.14,295.40 429.47,295.38 429.79,295.34 430.11,295.31 430.43,295.27 430.76,295.22 431.08,295.18 431.40,295.13 431.73,295.08 432.05,295.03 432.37,294.98 432.70,294.93 433.02,294.88 433.34,294.82 433.67,294.75 433.99,294.67 434.31,294.58 434.64,294.49 434.96,294.38 435.28,294.27 435.61,294.15 435.93,294.03 436.25,293.89 436.58,293.76 436.90,293.62 437.22,293.47 437.55,293.32 437.87,293.17 438.19,293.02 438.52,292.86 438.84,292.71 439.16,292.55 439.48,292.39 439.81,292.24 440.13,292.08 440.45,291.93 440.78,291.77 441.10,291.63 441.42,291.48 441.75,291.34 442.07,291.20 442.39,291.07 442.72,290.94 443.04,290.81 443.36,290.68 443.69,290.55 444.01,290.42 444.33,290.29 444.66,290.16 444.98,290.03 445.30,289.91 445.63,289.78 445.95,289.65 446.27,289.52 446.60,289.39 446.92,289.26 447.24,289.13 447.56,289.00 447.89,288.87 448.21,288.74 448.53,288.61 448.86,288.48 449.18,288.35 449.50,288.22 449.83,288.08 450.15,287.95 450.47,287.81 450.80,287.68 451.12,287.54 451.44,287.41 451.77,287.27 452.09,287.13 452.41,286.99 452.74,286.85 453.06,286.71 453.38,286.56 453.71,286.42 454.03,286.27 454.35,286.13 454.68,285.98 455.00,285.84 455.32,285.69 455.65,285.54 455.97,285.39 456.29,285.24 456.61,285.10 456.94,284.95 457.26,284.80 457.58,284.65 457.91,284.51 458.23,284.36 458.55,284.21 458.88,284.07 459.20,283.92 459.52,283.78 459.85,283.64 460.17,283.49 460.49,283.35 460.82,283.21 461.14,283.07 461.46,282.94 461.79,282.80 462.11,282.67 462.43,282.53 462.76,282.39 463.08,282.26 463.40,282.13 463.73,281.99 464.05,281.86 464.37,281.73 464.69,281.59 465.02,281.46 465.34,281.33 465.66,281.20 465.99,281.07 466.31,280.94 466.63,280.81 466.96,280.68 467.28,280.55 467.60,280.42 467.93,280.29 468.25,280.16 468.57,280.04 468.90,279.91 469.22,279.78 469.54,279.66 469.87,279.53 470.19,279.40 470.51,279.28 470.84,279.15 471.16,279.02 471.48,278.89 471.81,278.75 472.13,278.62 472.45,278.48 472.78,278.34 473.10,278.21 473.42,278.07 473.74,277.93 474.07,277.79 474.39,277.65 474.71,277.51 475.04,277.38 475.36,277.24 475.68,277.11 476.01,276.98 476.33,276.85 476.65,276.73 476.98,276.60 477.30,276.49" fill="none" stroke="#0a8a0a" stroke-width="1.2" clip-path="url(#c7)" stroke-linejoin="round" />
<path d="M362.60 305.00v-3.00M362.60 232.30v3.00M378.10 305.00v-3.00M378.10 232.30v3.00M393.60 305.00v-3.00M393.60 232.30v3.00M409.10 305.00v-3.00M409.10 232.30v3.00M424.60 305.00v-3.00M424.60 232.30v3.00M440.10 305.00v-3.00M440.10 232.30v3.00M455.60 305.00v-3.00M455.60 232.30v3.00M359.50 305.00h3.00M471.10 305.00h-3.00M359.50 291.78h3.00M471.10 291.78h-3.00M359.50 278.56h3.00M471.10 278.56h-3.00M359.50 265.35h3.00M471.10 265.35h-3.00M359.50 252.13h3.00M471.10 252.13h-3.00M359.50 238.91h3.00M471.10 238.91h-3.00" stroke="#444" stroke-width="0.8" fill="none"/>
<rect x="359.50" y="232.30" width="111.60" height="72.70" fill="none" stroke="#222" stroke-width="1.2"/>
<rect x="298.20" y="335.16" width="55.80" height="36.52" fill="none" stroke="#8c8c8c" stroke-width="1"/>
<path d="M298.20 335.16L359.50 232.30M354.00 371.68L471.10 305.00" stroke="#8c8c8c" stroke-width="1" fill="none"/>
<text x="263.12" y="378.20" font-size="12.32" textLength="26.76" lengthAdjust="spacingAndGlyphs" stroke-width="0.12">−0.5</text>
<text x="272.09" y="361.60" font-size="12.32" textLength="17.60" lengthAdjust="spacingAndGlyphs" stroke-width="0.12">0.0</text>
<text x="272.09" y="345.00" font-size="12.32" textLength="17.49" lengthAdjust="spacingAndGlyphs" stroke-width="0.12">0.5</text>
<text x="272.02" y="328.40" font-size="12.32" textLength="17.65" lengthAdjust="spacingAndGlyphs" stroke-width="0.12">1.0</text>
<text x="272.03" y="311.80" font-size="12.32" textLength="17.54" lengthAdjust="spacingAndGlyphs" stroke-width="0.12">1.5</text>
<text x="272.04" y="295.20" font-size="12.32" textLength="17.65" lengthAdjust="spacingAndGlyphs" stroke-width="0.12">2.0</text>
<text x="272.04" y="278.60" font-size="12.32" textLength="17.55" lengthAdjust="spacingAndGlyphs" stroke-width="0.12">2.5</text>
<text x="272.08" y="262.00" font-size="12.32" textLength="17.60" lengthAdjust="spacingAndGlyphs" stroke-width="0.12">3.0</text>
<text x="272.08" y="245.40" font-size="12.32" textLength="17.50" lengthAdjust="spacingAndGlyphs" stroke-width="0.12">3.5</text>
<text x="271.97" y="228.80" font-size="12.32" textLength="17.74" lengthAdjust="spacingAndGlyphs" stroke-width="0.12">4.0</text>
<text x="289.30" y="387.90" font-size="12.32" textLength="6.75" lengthAdjust="spacingAndGlyphs" stroke-width="0.12">0</text>
<text x="313.23" y="387.90" font-size="12.32" textLength="21.26" lengthAdjust="spacingAndGlyphs" stroke-width="0.12">200</text>
<text x="344.16" y="387.90" font-size="12.32" textLength="21.34" lengthAdjust="spacingAndGlyphs" stroke-width="0.12">400</text>
<text x="375.23" y="387.90" font-size="12.32" textLength="21.26" lengthAdjust="spacingAndGlyphs" stroke-width="0.12">600</text>
<text x="406.29" y="387.90" font-size="12.32" textLength="21.20" lengthAdjust="spacingAndGlyphs" stroke-width="0.12">800</text>
<text x="433.71" y="387.90" font-size="12.32" textLength="28.49" lengthAdjust="spacingAndGlyphs" stroke-width="0.12">1000</text>
<text x="464.71" y="387.90" font-size="12.32" textLength="28.49" lengthAdjust="spacingAndGlyphs" stroke-width="0.12">1200</text>
<text x="361.58" y="403.00" font-size="12.32" textLength="48.17" lengthAdjust="spacingAndGlyphs" stroke-width="0.12">Ruv (kλ)</text>
<text x="322.37" y="214.40" font-size="8.51" textLength="9.65" lengthAdjust="spacingAndGlyphs" stroke-width="0.08">13</text>
<text x="334.03" y="220.60" font-size="15.23" textLength="113.61" lengthAdjust="spacingAndGlyphs" stroke-width="0.20">CO 2-1 visibility</text>
<g transform="translate(254.30 347.20) rotate(-90)">
<text x="0.22" y="0.00" font-size="12.32" textLength="74.87" lengthAdjust="spacingAndGlyphs" stroke-width="0.12">Real (Jy km s</text>
<text x="75.32" y="-4.60" font-size="8.62" textLength="10.85" lengthAdjust="spacingAndGlyphs" stroke-width="0.08">−1</text>
<text x="89.10" y="0.00" font-size="12.32" textLength="3.54" lengthAdjust="spacingAndGlyphs" stroke-width="0.12">)</text>
</g>
<clipPath id="c8"><rect x="534.20" y="225.60" width="186.00" height="149.40"/></clipPath>
<line x1="534.20" y1="337.65" x2="720.20" y2="337.65" stroke="#333" stroke-width="1.5" stroke-dasharray="5.7 5.8" stroke-dashoffset="9.70" clip-path="url(#c8)"/>
<path d="M535.50 230.50V240.50M532.50 230.50h6.00M532.50 240.50h6.00M538.50 238.50V247.50M535.50 238.50h6.00M535.50 247.50h6.00M541.50 274.50V279.50M538.50 274.50h6.00M538.50 279.50h6.00M545.50 298.50V302.50M542.50 298.50h6.00M542.50 302.50h6.00M548.50 312.50V316.50M545.50 312.50h6.00M545.50 316.50h6.00M551.50 331.50V336.50M548.50 331.50h6.00M548.50 336.50h6.00M554.50 346.50V350.50M551.50 346.50h6.00M551.50 350.50h6.00M557.50 348.50V352.50M554.50 348.50h6.00M554.50 352.50h6.00M560.50 348.50V352.50M557.50 348.50h6.00M557.50 352.50h6.00M563.50 349.50V353.50M560.50 349.50h6.00M560.50 353.50h6.00M566.50 343.50V348.50M563.50 343.50h6.00M563.50 348.50h6.00M569.50 344.50V349.50M566.50 344.50h6.00M566.50 349.50h6.00M572.50 343.50V348.50M569.50 343.50h6.00M569.50 348.50h6.00M576.50 340.50V345.50M573.50 340.50h6.00M573.50 345.50h6.00M579.50 332.50V336.50M576.50 332.50h6.00M576.50 336.50h6.00M582.50 333.50V338.50M579.50 333.50h6.00M579.50 338.50h6.00M585.50 332.50V337.50M582.50 332.50h6.00M582.50 337.50h6.00M588.50 336.50V340.50M585.50 336.50h6.00M585.50 340.50h6.00M591.50 331.50V336.50M588.50 331.50h6.00M588.50 336.50h6.00M594.50 334.50V338.50M591.50 334.50h6.00M591.50 338.50h6.00M597.50 332.50V336.50M594.50 332.50h6.00M594.50 336.50h6.00M600.50 329.50V334.50M597.50 329.50h6.00M597.50 334.50h6.00M603.50 340.50V345.50M600.50 340.50h6.00M600.50 345.50h6.00M607.50 332.50V337.50M604.50 332.50h6.00M604.50 337.50h6.00M610.50 326.50V332.50M607.50 326.50h6.00M607.50 332.50h6.00M613.50 331.50V337.50M610.50 331.50h6.00M610.50 337.50h6.00M616.50 333.50V339.50M613.50 333.50h6.00M613.50 339.50h6.00M619.50 335.50V342.50M616.50 335.50h6.00M616.50 342.50h6.00M622.50 332.50V339.50M619.50 332.50h6.00M619.50 339.50h6.00M625.50 331.50V338.50M622.50 331.50h6.00M622.50 338.50h6.00M628.50 335.50V343.50M625.50 335.50h6.00M625.50 343.50h6.00M631.50 337.50V346.50M628.50 337.50h6.00M628.50 346.50h6.00M634.50 333.50V342.50M631.50 333.50h6.00M631.50 342.50h6.00M638.50 339.50V349.50M635.50 339.50h6.00M635.50 349.50h6.00M641.50 333.50V344.50M638.50 333.50h6.00M638.50 344.50h6.00M644.50 331.50V342.50M641.50 331.50h6.00M641.50 342.50h6.00M647.50 334.50V347.50M644.50 334.50h6.00M644.50 347.50h6.00M650.50 324.50V337.50M647.50 324.50h6.00M647.50 337.50h6.00M653.50 328.50V342.50M650.50 328.50h6.00M650.50 342.50h6.00M656.50 329.50V344.50M653.50 329.50h6.00M653.50 344.50h6.00M659.50 325.50V341.50M656.50 325.50h6.00M656.50 341.50h6.00M662.50 336.50V353.50M659.50 336.50h6.00M659.50 353.50h6.00M665.50 339.50V357.50M662.50 339.50h6.00M662.50 357.50h6.00M669.50 323.50V342.50M666.50 323.50h6.00M666.50 342.50h6.00M672.50 333.50V354.50M669.50 333.50h6.00M669.50 354.50h6.00M675.50 322.50V344.50M672.50 322.50h6.00M672.50 344.50h6.00M678.50 324.50V346.50M675.50 324.50h6.00M675.50 346.50h6.00M684.50 317.50V340.50M681.50 317.50h6.00M681.50 340.50h6.00M687.50 322.50V347.50M684.50 322.50h6.00M684.50 347.50h6.00M691.50 323.50V349.50M688.50 323.50h6.00M688.50 349.50h6.00M700.50 314.50V342.50M697.50 314.50h6.00M697.50 342.50h6.00M706.50 309.50V339.50M703.50 309.50h6.00M703.50 339.50h6.00" stroke="#4d4dff" stroke-width="1" fill="none" clip-path="url(#c8)"/>
<g fill="#0000ff" stroke="#00004a" stroke-width="0.6" clip-path="url(#c8)"><circle cx="535.75" cy="235.31" r="3"/><circle cx="538.85" cy="242.78" r="3"/><circle cx="541.95" cy="277.14" r="3"/><circle cx="545.05" cy="300.30" r="3"/><circle cx="548.15" cy="314.49" r="3"/><circle cx="551.25" cy="334.14" r="3"/><circle cx="554.35" cy="348.41" r="3"/><circle cx="557.45" cy="350.72" r="3"/><circle cx="560.55" cy="350.50" r="3"/><circle cx="563.65" cy="351.62" r="3"/><circle cx="566.75" cy="345.79" r="3"/><circle cx="569.85" cy="346.91" r="3"/><circle cx="572.95" cy="346.09" r="3"/><circle cx="576.05" cy="342.95" r="3"/><circle cx="579.15" cy="334.51" r="3"/><circle cx="582.25" cy="335.86" r="3"/><circle cx="585.35" cy="334.96" r="3"/><circle cx="588.45" cy="338.47" r="3"/><circle cx="591.55" cy="333.91" r="3"/><circle cx="594.65" cy="336.38" r="3"/><circle cx="597.13" cy="334.36" r="3"/><circle cx="600.70" cy="332.05" r="3"/><circle cx="603.95" cy="343.18" r="3"/><circle cx="607.36" cy="335.18" r="3"/><circle cx="610.46" cy="329.58" r="3"/><circle cx="613.56" cy="334.36" r="3"/><circle cx="616.66" cy="336.45" r="3"/><circle cx="619.30" cy="338.77" r="3"/><circle cx="622.24" cy="336.08" r="3"/><circle cx="625.50" cy="335.18" r="3"/><circle cx="628.75" cy="339.67" r="3"/><circle cx="631.85" cy="342.21" r="3"/><circle cx="634.95" cy="337.87" r="3"/><circle cx="638.21" cy="344.07" r="3"/><circle cx="641.46" cy="338.77" r="3"/><circle cx="644.41" cy="336.98" r="3"/><circle cx="647.66" cy="341.01" r="3"/><circle cx="650.61" cy="331.15" r="3"/><circle cx="653.40" cy="335.18" r="3"/><circle cx="656.65" cy="336.98" r="3"/><circle cx="659.60" cy="333.47" r="3"/><circle cx="662.85" cy="344.97" r="3"/><circle cx="665.80" cy="348.41" r="3"/><circle cx="669.05" cy="333.09" r="3"/><circle cx="672.31" cy="344.07" r="3"/><circle cx="675.40" cy="333.47" r="3"/><circle cx="678.66" cy="335.78" r="3"/><circle cx="684.86" cy="328.98" r="3"/><circle cx="687.96" cy="335.18" r="3"/><circle cx="691.06" cy="336.45" r="3"/><circle cx="700.21" cy="328.69" r="3"/><circle cx="706.87" cy="324.58" r="3"/></g>
<polyline points="534.67,225.60 535.10,228.03 535.54,230.45 535.98,232.80 536.42,235.04 536.86,237.20 537.30,239.35 537.74,241.58 538.17,243.94 538.61,246.51 539.05,249.37 539.49,252.70 539.93,256.38 540.37,260.29 540.81,264.28 541.24,268.23 541.68,272.00 542.12,275.48 542.56,278.83 543.00,282.10 543.44,285.30 543.88,288.44 544.31,291.52 544.75,294.54 545.19,297.52 545.63,300.49 546.07,303.44 546.51,306.33 546.95,309.13 547.38,311.80 547.82,314.31 548.26,316.61 548.70,318.70 549.14,320.68 549.58,322.66 550.02,324.73 550.45,326.85 550.89,328.97 551.33,331.05 551.77,333.04 552.21,334.92 552.65,336.79 553.09,338.62 553.52,340.32 553.96,341.81 554.40,343.03 554.84,344.17 555.28,345.27 555.72,346.26 556.16,347.11 556.59,347.75 557.03,348.14 557.47,348.34 557.91,348.50 558.35,348.65 558.79,348.77 559.23,348.87 559.66,348.95 560.10,348.99 560.54,349.00 560.98,349.00 561.42,348.98 561.86,348.95 562.30,348.91 562.73,348.86 563.17,348.81 563.61,348.75 564.05,348.69 564.49,348.62 564.93,348.55 565.37,348.48 565.80,348.41 566.24,348.34 566.68,348.27 567.12,348.21 567.56,348.15 568.00,348.10 568.44,348.05 568.87,348.01 569.31,347.97 569.75,347.92 570.19,347.88 570.63,347.84 571.07,347.80 571.51,347.76 571.94,347.71 572.38,347.66 572.82,347.61 573.26,347.56 573.70,347.50 574.14,347.44 574.58,347.37 575.01,347.31 575.45,347.23 575.89,347.16 576.33,347.08 576.77,346.99 577.21,346.90 577.65,346.81 578.08,346.71 578.52,346.60 578.96,346.48 579.40,346.36 579.84,346.22 580.28,346.06 580.72,345.88 581.15,345.68 581.59,345.47 582.03,345.24 582.47,345.01 582.91,344.77 583.35,344.52 583.79,344.28 584.22,344.04 584.66,343.80 585.10,343.57 585.54,343.34 585.98,343.11 586.42,342.88 586.86,342.65 587.30,342.42 587.73,342.18 588.17,341.94 588.61,341.69 589.05,341.44 589.49,341.18 589.93,340.91 590.37,340.63 590.80,340.34 591.24,340.03 591.68,339.68 592.12,339.32 592.56,338.94 593.00,338.55 593.44,338.17 593.87,337.79 594.31,337.42 594.75,337.08 595.19,336.76 595.63,336.48 596.07,336.23 596.51,335.98 596.94,335.73 597.38,335.47 597.82,335.22 598.26,334.97 598.70,334.73 599.14,334.49 599.58,334.25 600.01,334.03 600.45,333.81 600.89,333.61 601.33,333.42 601.77,333.25 602.21,333.09 602.65,332.95 603.08,332.83 603.52,332.73 603.96,332.65 604.40,332.60 604.84,332.57 605.28,332.57 605.72,332.59 606.15,332.62 606.59,332.67 607.03,332.73 607.47,332.80 607.91,332.88 608.35,332.97 608.79,333.07 609.22,333.18 609.66,333.29 610.10,333.41 610.54,333.53 610.98,333.65 611.42,333.78 611.86,333.90 612.29,334.03 612.73,334.15 613.17,334.27 613.61,334.38 614.05,334.49 614.49,334.59 614.93,334.69 615.36,334.78 615.80,334.88 616.24,334.98 616.68,335.08 617.12,335.18 617.56,335.29 618.00,335.39 618.43,335.50 618.87,335.60 619.31,335.71 619.75,335.82 620.19,335.93 620.63,336.04 621.07,336.14 621.50,336.25 621.94,336.36 622.38,336.47 622.82,336.58 623.26,336.69 623.70,336.80 624.14,336.90 624.57,337.01 625.01,337.11 625.45,337.21 625.89,337.32 626.33,337.42 626.77,337.51 627.21,337.61 627.64,337.70 628.08,337.80 628.52,337.88 628.96,337.97 629.40,338.06 629.84,338.14 630.28,338.21 630.71,338.29 631.15,338.36 631.59,338.43 632.03,338.50 632.47,338.56 632.91,338.61 633.35,338.67 633.78,338.72 634.22,338.76 634.66,338.80 635.10,338.84 635.54,338.88 635.98,338.93 636.42,338.97 636.86,339.01 637.29,339.05 637.73,339.08 638.17,339.12 638.61,339.16 639.05,339.20 639.49,339.24 639.93,339.27 640.36,339.31 640.80,339.34 641.24,339.37 641.68,339.40 642.12,339.43 642.56,339.46 643.00,339.49 643.43,339.51 643.87,339.54 644.31,339.56 644.75,339.58 645.19,339.60 645.63,339.61 646.07,339.63 646.50,339.64 646.94,339.65 647.38,339.66 647.82,339.66 648.26,339.67 648.70,339.67 649.14,339.66 649.57,339.64 650.01,339.62 650.45,339.58 650.89,339.54 651.33,339.49 651.77,339.43 652.21,339.37 652.64,339.30 653.08,339.22 653.52,339.14 653.96,339.06 654.40,338.97 654.84,338.88 655.28,338.78 655.71,338.68 656.15,338.58 656.59,338.48 657.03,338.38 657.47,338.27 657.91,338.17 658.35,338.07 658.78,337.97 659.22,337.87 659.66,337.77 660.10,337.67 660.54,337.58 660.98,337.49 661.42,337.41 661.85,337.33 662.29,337.25 662.73,337.18 663.17,337.12 663.61,337.06 664.05,337.01 664.49,336.97 664.92,336.93 665.36,336.89 665.80,336.85 666.24,336.81 666.68,336.77 667.12,336.73 667.56,336.69 667.99,336.65 668.43,336.61 668.87,336.58 669.31,336.54 669.75,336.50 670.19,336.47 670.63,336.43 671.06,336.40 671.50,336.37 671.94,336.34 672.38,336.31 672.82,336.28 673.26,336.25 673.70,336.23 674.13,336.21 674.57,336.18 675.01,336.16 675.45,336.15 675.89,336.13 676.33,336.12 676.77,336.10 677.20,336.10 677.64,336.09 678.08,336.08 678.52,336.08 678.96,336.08 679.40,336.09 679.84,336.11 680.27,336.13 680.71,336.16 681.15,336.19 681.59,336.23 682.03,336.27 682.47,336.32 682.91,336.36 683.34,336.41 683.78,336.46 684.22,336.52 684.66,336.57 685.10,336.62 685.54,336.67 685.98,336.72 686.42,336.77 686.85,336.81 687.29,336.85 687.73,336.89 688.17,336.92 688.61,336.95 689.05,336.97 689.49,336.99 689.92,337.00 690.36,337.02 690.80,337.04 691.24,337.05 691.68,337.07 692.12,337.08 692.56,337.10 692.99,337.11 693.43,337.13 693.87,337.14 694.31,337.15 694.75,337.17 695.19,337.18 695.63,337.19 696.06,337.21 696.50,337.22 696.94,337.23 697.38,337.24 697.82,337.26 698.26,337.27 698.70,337.28 699.13,337.29 699.57,337.30 700.01,337.31 700.45,337.32 700.89,337.33 701.33,337.34 701.77,337.35 702.20,337.35 702.64,337.36 703.08,337.37 703.52,337.38 703.96,337.38 704.40,337.39 704.84,337.40 705.27,337.40 705.71,337.41 706.15,337.41 706.59,337.41 707.03,337.42 707.47,337.42 707.91,337.42 708.34,337.42 708.78,337.42 709.22,337.43 709.66,337.43" fill="none" stroke="#0a8a0a" stroke-width="1.2" clip-path="url(#c8)" stroke-linejoin="round" />
<path d="M534.20 375.00v-3.50M534.20 225.60v3.50M565.20 375.00v-3.50M565.20 225.60v3.50M596.20 375.00v-3.50M596.20 225.60v3.50M627.20 375.00v-3.50M627.20 225.60v3.50M658.20 375.00v-3.50M658.20 225.60v3.50M689.20 375.00v-3.50M689.20 225.60v3.50M720.20 375.00v-3.50M720.20 225.60v3.50M534.20 375.00h3.50M720.20 375.00h-3.50M534.20 337.65h3.50M720.20 337.65h-3.50M534.20 300.30h3.50M720.20 300.30h-3.50M534.20 262.95h3.50M720.20 262.95h-3.50M534.20 225.60h3.50M720.20 225.60h-3.50" stroke="#444" stroke-width="0.8" fill="none"/>
<rect x="534.20" y="225.60" width="186.00" height="149.40" fill="none" stroke="#222" stroke-width="1.2"/>
<rect x="601.80" y="232.30" width="111.50" height="89.00" fill="#fff"/>
<clipPath id="c9"><rect x="601.80" y="232.30" width="111.50" height="89.00"/></clipPath>
<line x1="601.80" y1="276.80" x2="713.30" y2="276.80" stroke="#333" stroke-width="1.5" stroke-dasharray="5.7 5.8" stroke-dashoffset="9.10" clip-path="url(#c9)"/>
<path d="M598.50 79.50V97.50M595.50 79.50h6.00M595.50 97.50h6.00M604.50 152.50V161.50M601.50 152.50h6.00M601.50 161.50h6.00M611.50 198.50V207.50M608.50 198.50h6.00M608.50 207.50h6.00M617.50 226.50V235.50M614.50 226.50h6.00M614.50 235.50h6.00M623.50 265.50V274.50M620.50 265.50h6.00M620.50 274.50h6.00M629.50 293.50V302.50M626.50 293.50h6.00M626.50 302.50h6.00M635.50 298.50V307.50M632.50 298.50h6.00M632.50 307.50h6.00M642.50 297.50V306.50M639.50 297.50h6.00M639.50 306.50h6.00M648.50 300.50V308.50M645.50 300.50h6.00M645.50 308.50h6.00M654.50 288.50V297.50M651.50 288.50h6.00M651.50 297.50h6.00M660.50 290.50V299.50M657.50 290.50h6.00M657.50 299.50h6.00M666.50 289.50V298.50M663.50 289.50h6.00M663.50 298.50h6.00M673.50 282.50V291.50M670.50 282.50h6.00M670.50 291.50h6.00M679.50 266.50V275.50M676.50 266.50h6.00M676.50 275.50h6.00M685.50 268.50V277.50M682.50 268.50h6.00M682.50 277.50h6.00M691.50 267.50V275.50M688.50 267.50h6.00M688.50 275.50h6.00M697.50 273.50V282.50M694.50 273.50h6.00M694.50 282.50h6.00M704.50 264.50V273.50M701.50 264.50h6.00M701.50 273.50h6.00M710.50 269.50V278.50M707.50 269.50h6.00M707.50 278.50h6.00M715.50 265.50V274.50M712.50 265.50h6.00M712.50 274.50h6.00" stroke="#4d4dff" stroke-width="1" fill="none" clip-path="url(#c9)"/>
<g fill="#0000ff" stroke="#00004a" stroke-width="0.6" clip-path="url(#c9)"><circle cx="598.70" cy="88.42" r="3"/><circle cx="604.90" cy="156.65" r="3"/><circle cx="611.09" cy="202.63" r="3"/><circle cx="617.29" cy="230.82" r="3"/><circle cx="623.48" cy="269.83" r="3"/><circle cx="629.67" cy="298.16" r="3"/><circle cx="635.87" cy="302.76" r="3"/><circle cx="642.06" cy="302.31" r="3"/><circle cx="648.26" cy="304.54" r="3"/><circle cx="654.45" cy="292.97" r="3"/><circle cx="660.65" cy="295.19" r="3"/><circle cx="666.84" cy="293.56" r="3"/><circle cx="673.04" cy="287.33" r="3"/><circle cx="679.23" cy="270.57" r="3"/><circle cx="685.42" cy="273.24" r="3"/><circle cx="691.62" cy="271.46" r="3"/><circle cx="697.81" cy="278.43" r="3"/><circle cx="704.01" cy="269.38" r="3"/><circle cx="710.20" cy="274.28" r="3"/><circle cx="715.16" cy="270.27" r="3"/></g>
<polyline points="590.34,54.30 590.66,56.09 590.99,57.87 591.31,59.65 591.64,61.43 591.96,63.19 592.28,64.95 592.61,66.69 592.93,68.40 593.25,70.07 593.58,71.70 593.90,73.31 594.22,74.90 594.55,76.48 594.87,78.05 595.20,79.63 595.52,81.22 595.84,82.82 596.17,84.45 596.49,86.11 596.81,87.80 597.14,89.54 597.46,91.33 597.79,93.18 598.11,95.09 598.43,97.08 598.76,99.15 599.08,101.34 599.40,103.67 599.73,106.11 600.05,108.67 600.37,111.32 600.70,114.05 601.02,116.85 601.35,119.71 601.67,122.60 601.99,125.52 602.32,128.46 602.64,131.39 602.96,134.31 603.29,137.21 603.61,140.06 603.94,142.86 604.26,145.59 604.58,148.24 604.91,150.79 605.23,153.28 605.55,155.75 605.88,158.21 606.20,160.64 606.53,163.05 606.85,165.44 607.17,167.81 607.50,170.17 607.82,172.51 608.14,174.83 608.47,177.13 608.79,179.42 609.11,181.69 609.44,183.94 609.76,186.18 610.09,188.40 610.41,190.61 610.73,192.80 611.06,194.98 611.38,197.16 611.70,199.33 612.03,201.51 612.35,203.69 612.68,205.86 613.00,208.02 613.32,210.16 613.65,212.29 613.97,214.39 614.29,216.47 614.62,218.53 614.94,220.55 615.26,222.53 615.59,224.48 615.91,226.38 616.24,228.24 616.56,230.05 616.88,231.81 617.21,233.50 617.53,235.13 617.85,236.69 618.18,238.21 618.50,239.70 618.83,241.16 619.15,242.60 619.47,244.04 619.80,245.49 620.12,246.96 620.44,248.45 620.77,249.98 621.09,251.52 621.41,253.07 621.74,254.62 622.06,256.18 622.39,257.74 622.71,259.30 623.03,260.84 623.36,262.36 623.68,263.87 624.00,265.35 624.33,266.80 624.65,268.22 624.98,269.60 625.30,270.96 625.62,272.34 625.95,273.71 626.27,275.08 626.59,276.45 626.92,277.79 627.24,279.10 627.57,280.37 627.89,281.60 628.21,282.78 628.54,283.90 628.86,284.94 629.18,285.91 629.51,286.79 629.83,287.63 630.15,288.47 630.48,289.30 630.80,290.13 631.13,290.94 631.45,291.73 631.77,292.50 632.10,293.23 632.42,293.93 632.74,294.59 633.07,295.21 633.39,295.77 633.72,296.27 634.04,296.72 634.36,297.09 634.69,297.40 635.01,297.62 635.33,297.78 635.66,297.91 635.98,298.05 636.30,298.17 636.63,298.29 636.95,298.41 637.28,298.52 637.60,298.62 637.92,298.72 638.25,298.81 638.57,298.90 638.89,298.97 639.22,299.05 639.54,299.11 639.87,299.17 640.19,299.22 640.51,299.26 640.84,299.29 641.16,299.32 641.48,299.34 641.81,299.35 642.13,299.35 642.46,299.34 642.78,299.34 643.10,299.33 643.43,299.31 643.75,299.30 644.07,299.28 644.40,299.26 644.72,299.23 645.04,299.21 645.37,299.18 645.69,299.15 646.02,299.11 646.34,299.08 646.66,299.04 646.99,299.00 647.31,298.96 647.63,298.92 647.96,298.87 648.28,298.83 648.61,298.78 648.93,298.73 649.25,298.69 649.58,298.64 649.90,298.59 650.22,298.54 650.55,298.48 650.87,298.43 651.19,298.38 651.52,298.33 651.84,298.28 652.17,298.23 652.49,298.17 652.81,298.12 653.14,298.07 653.46,298.02 653.78,297.97 654.11,297.92 654.43,297.88 654.76,297.83 655.08,297.78 655.40,297.74 655.73,297.70 656.05,297.66 656.37,297.62 656.70,297.58 657.02,297.54 657.35,297.51 657.67,297.47 657.99,297.44 658.32,297.41 658.64,297.37 658.96,297.34 659.29,297.31 659.61,297.28 659.93,297.25 660.26,297.22 660.58,297.19 660.91,297.16 661.23,297.13 661.55,297.10 661.88,297.07 662.20,297.04 662.52,297.01 662.85,296.98 663.17,296.95 663.50,296.91 663.82,296.88 664.14,296.85 664.47,296.82 664.79,296.78 665.11,296.75 665.44,296.72 665.76,296.68 666.08,296.64 666.41,296.61 666.73,296.57 667.06,296.53 667.38,296.49 667.70,296.45 668.03,296.40 668.35,296.36 668.67,296.32 669.00,296.27 669.32,296.22 669.65,296.18 669.97,296.13 670.29,296.08 670.62,296.03 670.94,295.98 671.26,295.93 671.59,295.87 671.91,295.82 672.24,295.77 672.56,295.71 672.88,295.65 673.21,295.59 673.53,295.53 673.85,295.47 674.18,295.41 674.50,295.35 674.82,295.28 675.15,295.22 675.47,295.15 675.80,295.08 676.12,295.01 676.44,294.94 676.77,294.86 677.09,294.79 677.41,294.71 677.74,294.63 678.06,294.55 678.39,294.47 678.71,294.38 679.03,294.29 679.36,294.21 679.68,294.12 680.00,294.02 680.33,293.92 680.65,293.81 680.97,293.69 681.30,293.57 681.62,293.44 681.95,293.31 682.27,293.18 682.59,293.04 682.92,292.89 683.24,292.74 683.56,292.59 683.89,292.43 684.21,292.27 684.54,292.11 684.86,291.94 685.18,291.77 685.51,291.60 685.83,291.43 686.15,291.25 686.48,291.08 686.80,290.90 687.12,290.72 687.45,290.55 687.77,290.37 688.10,290.19 688.42,290.01 688.74,289.83 689.07,289.65 689.39,289.47 689.71,289.30 690.04,289.13 690.36,288.95 690.69,288.78 691.01,288.61 691.33,288.45 691.66,288.28 691.98,288.11 692.30,287.94 692.63,287.78 692.95,287.61 693.28,287.44 693.60,287.27 693.92,287.10 694.25,286.93 694.57,286.76 694.89,286.59 695.22,286.42 695.54,286.25 695.86,286.07 696.19,285.90 696.51,285.72 696.84,285.55 697.16,285.37 697.48,285.19 697.81,285.01 698.13,284.83 698.45,284.64 698.78,284.45 699.10,284.27 699.43,284.08 699.75,283.88 700.07,283.69 700.40,283.49 700.72,283.30 701.04,283.10 701.37,282.89 701.69,282.69 702.01,282.48 702.34,282.27 702.66,282.05 702.99,281.82 703.31,281.58 703.63,281.34 703.96,281.09 704.28,280.83 704.60,280.57 704.93,280.30 705.25,280.03 705.58,279.75 705.90,279.47 706.22,279.19 706.55,278.90 706.87,278.62 707.19,278.34 707.52,278.05 707.84,277.77 708.17,277.49 708.49,277.21 708.81,276.94 709.14,276.67 709.46,276.40 709.78,276.14 710.11,275.89 710.43,275.64 710.75,275.40 711.08,275.17 711.40,274.95 711.73,274.74 712.05,274.54 712.37,274.35 712.70,274.17 713.02,273.98 713.34,273.80 713.67,273.62 713.99,273.43 714.32,273.25 714.64,273.07 714.96,272.88 715.29,272.69 715.61,272.51 715.93,272.32 716.26,272.14 716.58,271.95 716.90,271.77 717.23,271.59 717.55,271.40 717.88,271.22 718.20,271.04 718.52,270.87 718.85,270.69 719.17,270.51 719.49,270.34" fill="none" stroke="#0a8a0a" stroke-width="1.2" clip-path="url(#c9)" stroke-linejoin="round" />
<path d="M604.90 321.30v-3.00M604.90 232.30v3.00M620.38 321.30v-3.00M620.38 232.30v3.00M635.87 321.30v-3.00M635.87 232.30v3.00M651.36 321.30v-3.00M651.36 232.30v3.00M666.84 321.30v-3.00M666.84 232.30v3.00M682.33 321.30v-3.00M682.33 232.30v3.00M697.81 321.30v-3.00M697.81 232.30v3.00M601.80 306.47h3.00M713.30 306.47h-3.00M601.80 291.63h3.00M713.30 291.63h-3.00M601.80 276.80h3.00M713.30 276.80h-3.00M601.80 261.97h3.00M713.30 261.97h-3.00M601.80 247.13h3.00M713.30 247.13h-3.00" stroke="#444" stroke-width="0.8" fill="none"/>
<rect x="601.80" y="232.30" width="111.50" height="89.00" fill="none" stroke="#222" stroke-width="1.2"/>
<rect x="540.40" y="315.24" width="55.80" height="44.82" fill="none" stroke="#8c8c8c" stroke-width="1"/>
<path d="M540.40 315.24L601.80 232.30M596.20 360.06L713.30 321.30" stroke="#8c8c8c" stroke-width="1" fill="none"/>
<text x="505.32" y="378.20" font-size="12.32" textLength="26.76" lengthAdjust="spacingAndGlyphs" stroke-width="0.12">−0.5</text>
<text x="514.29" y="340.85" font-size="12.32" textLength="17.60" lengthAdjust="spacingAndGlyphs" stroke-width="0.12">0.0</text>
<text x="514.29" y="303.50" font-size="12.32" textLength="17.49" lengthAdjust="spacingAndGlyphs" stroke-width="0.12">0.5</text>
<text x="514.22" y="266.15" font-size="12.32" textLength="17.65" lengthAdjust="spacingAndGlyphs" stroke-width="0.12">1.0</text>
<text x="514.23" y="228.80" font-size="12.32" textLength="17.54" lengthAdjust="spacingAndGlyphs" stroke-width="0.12">1.5</text>
<text x="531.50" y="387.90" font-size="12.32" textLength="6.75" lengthAdjust="spacingAndGlyphs" stroke-width="0.12">0</text>
<text x="555.43" y="387.90" font-size="12.32" textLength="21.26" lengthAdjust="spacingAndGlyphs" stroke-width="0.12">200</text>
<text x="586.36" y="387.90" font-size="12.32" textLength="21.34" lengthAdjust="spacingAndGlyphs" stroke-width="0.12">400</text>
<text x="617.43" y="387.90" font-size="12.32" textLength="21.26" lengthAdjust="spacingAndGlyphs" stroke-width="0.12">600</text>
<text x="648.49" y="387.90" font-size="12.32" textLength="21.20" lengthAdjust="spacingAndGlyphs" stroke-width="0.12">800</text>
<text x="675.91" y="387.90" font-size="12.32" textLength="28.49" lengthAdjust="spacingAndGlyphs" stroke-width="0.12">1000</text>
<text x="706.91" y="387.90" font-size="12.32" textLength="28.49" lengthAdjust="spacingAndGlyphs" stroke-width="0.12">1200</text>
<text x="603.78" y="403.00" font-size="12.32" textLength="48.17" lengthAdjust="spacingAndGlyphs" stroke-width="0.12">Ruv (kλ)</text>
<text x="564.59" y="220.60" font-size="15.23" textLength="10.64" lengthAdjust="spacingAndGlyphs" stroke-width="0.20">C</text>
<text x="574.97" y="214.40" font-size="8.51" textLength="9.69" lengthAdjust="spacingAndGlyphs" stroke-width="0.08">18</text>
<text x="586.83" y="220.60" font-size="15.23" textLength="102.89" lengthAdjust="spacingAndGlyphs" stroke-width="0.20">O 2-1 visibility</text>
<g transform="translate(496.30 347.20) rotate(-90)">
<text x="0.22" y="0.00" font-size="12.32" textLength="74.87" lengthAdjust="spacingAndGlyphs" stroke-width="0.12">Real (Jy km s</text>
<text x="75.32" y="-4.60" font-size="8.62" textLength="10.85" lengthAdjust="spacingAndGlyphs" stroke-width="0.08">−1</text>
<text x="89.10" y="0.00" font-size="12.32" textLength="3.54" lengthAdjust="spacingAndGlyphs" stroke-width="0.12">)</text>
</g>
</svg>
</body></html>
